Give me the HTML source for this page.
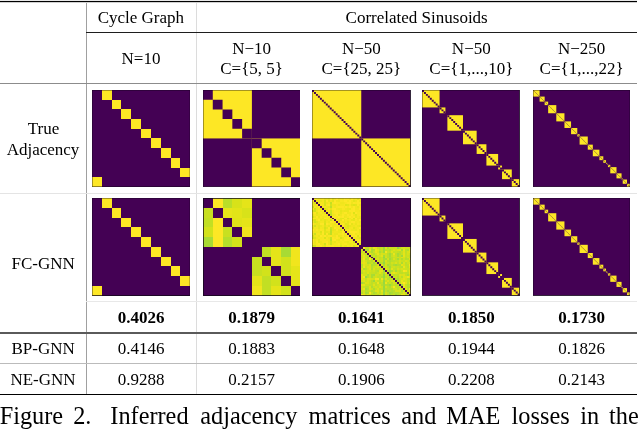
<!DOCTYPE html>
<html><head><meta charset="utf-8"><style>
html,body{margin:0;padding:0;background:#fff;}
body{width:640px;height:429px;position:relative;overflow:hidden;}
.t{position:absolute;text-align:center;white-space:nowrap;line-height:normal;font-family:"Liberation Serif",serif;color:#000;}
.c{position:absolute;white-space:nowrap;line-height:normal;font-family:"Liberation Serif",serif;color:#000;}
.l{position:absolute;}
#txt{position:absolute;left:0;top:0;width:640px;height:429px;will-change:transform;}
svg{display:block;}
</style></head><body>
<div id="txt"><div class="l" style="left:86px;top:2px;width:1px;height:392px;background:#a0a0a0"></div><div class="l" style="left:196px;top:2px;width:1px;height:392px;background:#dcdcdc"></div><div class="l" style="left:0px;top:0px;width:637px;height:1px;background:#e8e8e8"></div><div class="l" style="left:0px;top:1px;width:637px;height:1px;background:#000"></div><div class="l" style="left:0px;top:2px;width:637px;height:1px;background:#d0d0d0"></div><div class="l" style="left:86px;top:32px;width:551px;height:1px;background:#1e1e1e"></div><div class="l" style="left:0px;top:83px;width:637px;height:1px;background:#8c8c8c"></div><div class="l" style="left:0px;top:193px;width:637px;height:1px;background:#e4e4e4"></div><div class="l" style="left:86px;top:301px;width:551px;height:1px;background:#e8e8e8"></div><div class="l" style="left:0px;top:332px;width:637px;height:2px;background:#5a5a5a"></div><div class="l" style="left:0px;top:363px;width:637px;height:1px;background:#bbbbbb"></div><div class="l" style="left:0px;top:394px;width:637px;height:1px;background:#000"></div><div class="t" style="left:30.90px;top:8.25px;width:220px;font-size:17px;">Cycle Graph</div><div class="t" style="left:216.70px;top:8.25px;width:400px;font-size:17px;">Correlated Sinusoids</div><div class="t" style="left:31.00px;top:48.95px;width:220px;font-size:17px;">N=10</div><div class="t" style="left:141.60px;top:38.55px;width:220px;font-size:17px;">N&minus;10</div><div class="t" style="left:141.60px;top:59.05px;width:220px;font-size:17px;">C={5, 5}</div><div class="t" style="left:251.40px;top:38.55px;width:220px;font-size:17px;">N&minus;50</div><div class="t" style="left:251.40px;top:59.05px;width:220px;font-size:17px;">C={25, 25}</div><div class="t" style="left:361.30px;top:38.55px;width:220px;font-size:17px;">N&minus;50</div><div class="t" style="left:361.30px;top:59.05px;width:220px;font-size:17px;">C={1,...,10}</div><div class="t" style="left:471.60px;top:38.55px;width:220px;font-size:17px;">N&minus;250</div><div class="t" style="left:471.60px;top:59.05px;width:220px;font-size:17px;">C={1,...,22}</div><div class="t" style="left:0.50px;top:119.45px;width:86px;font-size:17px;">True</div><div class="t" style="left:0.00px;top:139.55px;width:86px;font-size:17px;">Adjacency</div><div class="t" style="left:0.10px;top:253.65px;width:86px;font-size:17px;">FC-GNN</div><div class="t" style="left:0.10px;top:338.85px;width:86px;font-size:17px;">BP-GNN</div><div class="t" style="left:0.00px;top:369.75px;width:86px;font-size:17px;">NE-GNN</div><div class="t" style="left:31.00px;top:308.15px;width:220px;font-size:17px;font-weight:bold;">0.4026</div><div class="t" style="left:31.00px;top:338.85px;width:220px;font-size:17px;">0.4146</div><div class="t" style="left:31.00px;top:369.85px;width:220px;font-size:17px;">0.9288</div><div class="t" style="left:141.60px;top:308.15px;width:220px;font-size:17px;font-weight:bold;">0.1879</div><div class="t" style="left:141.60px;top:338.85px;width:220px;font-size:17px;">0.1883</div><div class="t" style="left:141.60px;top:369.85px;width:220px;font-size:17px;">0.2157</div><div class="t" style="left:251.40px;top:308.15px;width:220px;font-size:17px;font-weight:bold;">0.1641</div><div class="t" style="left:251.40px;top:338.85px;width:220px;font-size:17px;">0.1648</div><div class="t" style="left:251.40px;top:369.85px;width:220px;font-size:17px;">0.1906</div><div class="t" style="left:361.30px;top:308.15px;width:220px;font-size:17px;font-weight:bold;">0.1850</div><div class="t" style="left:361.30px;top:338.85px;width:220px;font-size:17px;">0.1944</div><div class="t" style="left:361.30px;top:369.85px;width:220px;font-size:17px;">0.2208</div><div class="t" style="left:471.60px;top:308.15px;width:220px;font-size:17px;font-weight:bold;">0.1730</div><div class="t" style="left:471.60px;top:338.85px;width:220px;font-size:17px;">0.1826</div><div class="t" style="left:471.60px;top:369.85px;width:220px;font-size:17px;">0.2143</div><div class="c" style="left:-0.3px;top:402.25px;font-size:24.3px">Figure</div><div class="c" style="left:73.2px;top:402.25px;font-size:24.3px">2.</div><div class="c" style="left:110.3px;top:402.25px;font-size:24.3px">Inferred</div><div class="c" style="left:200.3px;top:402.25px;font-size:24.3px">adjacency</div><div class="c" style="left:308.5px;top:402.25px;font-size:24.3px">matrices</div><div class="c" style="left:401.3px;top:402.25px;font-size:24.3px">and</div><div class="c" style="left:446.3px;top:402.25px;font-size:24.3px">MAE</div><div class="c" style="left:511.6px;top:402.25px;font-size:24.3px">losses</div><div class="c" style="left:580.2px;top:402.25px;font-size:24.3px">in</div><div class="c" style="left:609px;top:402.25px;font-size:24.3px">the</div></div>
<svg style="position:absolute;left:91.8px;top:90px" width="98.2" height="96.9" viewBox="0 0 10 10" preserveAspectRatio="none" shape-rendering="crispEdges"><rect x="0" y="0" width="10" height="10" fill="#440154"/><rect x="1" y="0" width="1" height="1" fill="#fde725"/><rect x="2" y="1" width="1" height="1" fill="#fde725"/><rect x="3" y="2" width="1" height="1" fill="#fde725"/><rect x="4" y="3" width="1" height="1" fill="#fde725"/><rect x="5" y="4" width="1" height="1" fill="#fde725"/><rect x="6" y="5" width="1" height="1" fill="#fde725"/><rect x="7" y="6" width="1" height="1" fill="#fde725"/><rect x="8" y="7" width="1" height="1" fill="#fde725"/><rect x="9" y="8" width="1" height="1" fill="#fde725"/><rect x="0" y="9" width="1" height="1" fill="#fde725"/><rect x="0" y="0" width="10" height="10" fill="none" stroke="#100818" stroke-width="0.10204081632653061" stroke-opacity="0.75"/></svg><svg style="position:absolute;left:202.7px;top:90px" width="97.8" height="96.9" viewBox="0 0 10 10" preserveAspectRatio="none"><rect x="0" y="0" width="10" height="10" fill="#440154"/><rect x="0" y="0" width="5" height="5" fill="#fde725"/><rect x="5" y="5" width="5" height="5" fill="#fde725"/><path d="M0 0h1v1h-1z M1 1h1v1h-1z M2 2h1v1h-1z M3 3h1v1h-1z M4 4h1v1h-1z M5 5h1v1h-1z M6 6h1v1h-1z M7 7h1v1h-1z M8 8h1v1h-1z M9 9h1v1h-1z" fill="#440154"/><rect x="0" y="0" width="10" height="10" fill="none" stroke="#100818" stroke-width="0.10204081632653061" stroke-opacity="0.75"/></svg><svg style="position:absolute;left:312.2px;top:90px" width="98.5" height="96.9" viewBox="0 0 50 50" preserveAspectRatio="none"><rect x="0" y="0" width="50" height="50" fill="#440154"/><rect x="0" y="0" width="25" height="25" fill="#fde725"/><rect x="25" y="25" width="25" height="25" fill="#fde725"/><path d="M0 0h1v1h-1z M1 1h1v1h-1z M2 2h1v1h-1z M3 3h1v1h-1z M4 4h1v1h-1z M5 5h1v1h-1z M6 6h1v1h-1z M7 7h1v1h-1z M8 8h1v1h-1z M9 9h1v1h-1z M10 10h1v1h-1z M11 11h1v1h-1z M12 12h1v1h-1z M13 13h1v1h-1z M14 14h1v1h-1z M15 15h1v1h-1z M16 16h1v1h-1z M17 17h1v1h-1z M18 18h1v1h-1z M19 19h1v1h-1z M20 20h1v1h-1z M21 21h1v1h-1z M22 22h1v1h-1z M23 23h1v1h-1z M24 24h1v1h-1z M25 25h1v1h-1z M26 26h1v1h-1z M27 27h1v1h-1z M28 28h1v1h-1z M29 29h1v1h-1z M30 30h1v1h-1z M31 31h1v1h-1z M32 32h1v1h-1z M33 33h1v1h-1z M34 34h1v1h-1z M35 35h1v1h-1z M36 36h1v1h-1z M37 37h1v1h-1z M38 38h1v1h-1z M39 39h1v1h-1z M40 40h1v1h-1z M41 41h1v1h-1z M42 42h1v1h-1z M43 43h1v1h-1z M44 44h1v1h-1z M45 45h1v1h-1z M46 46h1v1h-1z M47 47h1v1h-1z M48 48h1v1h-1z M49 49h1v1h-1z" fill="#440154"/><rect x="0" y="0" width="50" height="50" fill="none" stroke="#100818" stroke-width="0.5102040816326531" stroke-opacity="0.75"/></svg><svg style="position:absolute;left:422.4px;top:90px" width="97.6" height="96.9" viewBox="0 0 50 50" preserveAspectRatio="none"><rect x="0" y="0" width="50" height="50" fill="#440154"/><rect x="0" y="0" width="9" height="9" fill="#fde725"/><rect x="9" y="9" width="3" height="3" fill="#fde725"/><rect x="13" y="13" width="8" height="8" fill="#fde725"/><rect x="21" y="21" width="7" height="7" fill="#fde725"/><rect x="28" y="28" width="5" height="5" fill="#fde725"/><rect x="33" y="33" width="6" height="6" fill="#fde725"/><rect x="39" y="39" width="2" height="2" fill="#fde725"/><rect x="41" y="41" width="5" height="5" fill="#fde725"/><rect x="46" y="46" width="4" height="4" fill="#fde725"/><path d="M0 0h1v1h-1z M1 1h1v1h-1z M2 2h1v1h-1z M3 3h1v1h-1z M4 4h1v1h-1z M5 5h1v1h-1z M6 6h1v1h-1z M7 7h1v1h-1z M8 8h1v1h-1z M9 9h1v1h-1z M10 10h1v1h-1z M11 11h1v1h-1z M12 12h1v1h-1z M13 13h1v1h-1z M14 14h1v1h-1z M15 15h1v1h-1z M16 16h1v1h-1z M17 17h1v1h-1z M18 18h1v1h-1z M19 19h1v1h-1z M20 20h1v1h-1z M21 21h1v1h-1z M22 22h1v1h-1z M23 23h1v1h-1z M24 24h1v1h-1z M25 25h1v1h-1z M26 26h1v1h-1z M27 27h1v1h-1z M28 28h1v1h-1z M29 29h1v1h-1z M30 30h1v1h-1z M31 31h1v1h-1z M32 32h1v1h-1z M33 33h1v1h-1z M34 34h1v1h-1z M35 35h1v1h-1z M36 36h1v1h-1z M37 37h1v1h-1z M38 38h1v1h-1z M39 39h1v1h-1z M40 40h1v1h-1z M41 41h1v1h-1z M42 42h1v1h-1z M43 43h1v1h-1z M44 44h1v1h-1z M45 45h1v1h-1z M46 46h1v1h-1z M47 47h1v1h-1z M48 48h1v1h-1z M49 49h1v1h-1z" fill="#440154"/><rect x="0" y="0" width="50" height="50" fill="none" stroke="#100818" stroke-width="0.5102040816326531" stroke-opacity="0.75"/></svg><svg style="position:absolute;left:532.7px;top:90px" width="97.1" height="96.9" viewBox="0 0 250 250" preserveAspectRatio="none"><rect x="0" y="0" width="250" height="250" fill="#440154"/><rect x="0" y="0" width="17" height="17" fill="#fde725"/><rect x="17" y="17" width="13" height="13" fill="#fde725"/><rect x="30" y="30" width="9" height="9" fill="#fde725"/><rect x="39" y="39" width="21" height="21" fill="#fde725"/><rect x="60" y="60" width="21" height="21" fill="#fde725"/><rect x="81" y="81" width="17" height="17" fill="#fde725"/><rect x="98" y="98" width="16" height="16" fill="#fde725"/><rect x="114" y="114" width="6" height="6" fill="#fde725"/><rect x="120" y="120" width="21" height="21" fill="#fde725"/><rect x="141" y="141" width="13" height="13" fill="#fde725"/><rect x="154" y="154" width="17" height="17" fill="#fde725"/><rect x="171" y="171" width="10" height="10" fill="#fde725"/><rect x="181" y="181" width="7" height="7" fill="#fde725"/><rect x="188" y="188" width="3" height="3" fill="#fde725"/><rect x="191" y="191" width="2" height="2" fill="#fde725"/><rect x="193" y="193" width="6" height="6" fill="#fde725"/><rect x="199" y="199" width="16" height="16" fill="#fde725"/><rect x="215" y="215" width="13" height="13" fill="#fde725"/><rect x="228" y="228" width="3" height="3" fill="#fde725"/><rect x="231" y="231" width="11" height="11" fill="#fde725"/><rect x="242" y="242" width="8" height="8" fill="#fde725"/><path d="M0 0h1v1h-1z M1 1h1v1h-1z M2 2h1v1h-1z M3 3h1v1h-1z M4 4h1v1h-1z M5 5h1v1h-1z M6 6h1v1h-1z M7 7h1v1h-1z M8 8h1v1h-1z M9 9h1v1h-1z M10 10h1v1h-1z M11 11h1v1h-1z M12 12h1v1h-1z M13 13h1v1h-1z M14 14h1v1h-1z M15 15h1v1h-1z M16 16h1v1h-1z M17 17h1v1h-1z M18 18h1v1h-1z M19 19h1v1h-1z M20 20h1v1h-1z M21 21h1v1h-1z M22 22h1v1h-1z M23 23h1v1h-1z M24 24h1v1h-1z M25 25h1v1h-1z M26 26h1v1h-1z M27 27h1v1h-1z M28 28h1v1h-1z M29 29h1v1h-1z M30 30h1v1h-1z M31 31h1v1h-1z M32 32h1v1h-1z M33 33h1v1h-1z M34 34h1v1h-1z M35 35h1v1h-1z M36 36h1v1h-1z M37 37h1v1h-1z M38 38h1v1h-1z M39 39h1v1h-1z M40 40h1v1h-1z M41 41h1v1h-1z M42 42h1v1h-1z M43 43h1v1h-1z M44 44h1v1h-1z M45 45h1v1h-1z M46 46h1v1h-1z M47 47h1v1h-1z M48 48h1v1h-1z M49 49h1v1h-1z M50 50h1v1h-1z M51 51h1v1h-1z M52 52h1v1h-1z M53 53h1v1h-1z M54 54h1v1h-1z M55 55h1v1h-1z M56 56h1v1h-1z M57 57h1v1h-1z M58 58h1v1h-1z M59 59h1v1h-1z M60 60h1v1h-1z M61 61h1v1h-1z M62 62h1v1h-1z M63 63h1v1h-1z M64 64h1v1h-1z M65 65h1v1h-1z M66 66h1v1h-1z M67 67h1v1h-1z M68 68h1v1h-1z M69 69h1v1h-1z M70 70h1v1h-1z M71 71h1v1h-1z M72 72h1v1h-1z M73 73h1v1h-1z M74 74h1v1h-1z M75 75h1v1h-1z M76 76h1v1h-1z M77 77h1v1h-1z M78 78h1v1h-1z M79 79h1v1h-1z M80 80h1v1h-1z M81 81h1v1h-1z M82 82h1v1h-1z M83 83h1v1h-1z M84 84h1v1h-1z M85 85h1v1h-1z M86 86h1v1h-1z M87 87h1v1h-1z M88 88h1v1h-1z M89 89h1v1h-1z M90 90h1v1h-1z M91 91h1v1h-1z M92 92h1v1h-1z M93 93h1v1h-1z M94 94h1v1h-1z M95 95h1v1h-1z M96 96h1v1h-1z M97 97h1v1h-1z M98 98h1v1h-1z M99 99h1v1h-1z M100 100h1v1h-1z M101 101h1v1h-1z M102 102h1v1h-1z M103 103h1v1h-1z M104 104h1v1h-1z M105 105h1v1h-1z M106 106h1v1h-1z M107 107h1v1h-1z M108 108h1v1h-1z M109 109h1v1h-1z M110 110h1v1h-1z M111 111h1v1h-1z M112 112h1v1h-1z M113 113h1v1h-1z M114 114h1v1h-1z M115 115h1v1h-1z M116 116h1v1h-1z M117 117h1v1h-1z M118 118h1v1h-1z M119 119h1v1h-1z M120 120h1v1h-1z M121 121h1v1h-1z M122 122h1v1h-1z M123 123h1v1h-1z M124 124h1v1h-1z M125 125h1v1h-1z M126 126h1v1h-1z M127 127h1v1h-1z M128 128h1v1h-1z M129 129h1v1h-1z M130 130h1v1h-1z M131 131h1v1h-1z M132 132h1v1h-1z M133 133h1v1h-1z M134 134h1v1h-1z M135 135h1v1h-1z M136 136h1v1h-1z M137 137h1v1h-1z M138 138h1v1h-1z M139 139h1v1h-1z M140 140h1v1h-1z M141 141h1v1h-1z M142 142h1v1h-1z M143 143h1v1h-1z M144 144h1v1h-1z M145 145h1v1h-1z M146 146h1v1h-1z M147 147h1v1h-1z M148 148h1v1h-1z M149 149h1v1h-1z M150 150h1v1h-1z M151 151h1v1h-1z M152 152h1v1h-1z M153 153h1v1h-1z M154 154h1v1h-1z M155 155h1v1h-1z M156 156h1v1h-1z M157 157h1v1h-1z M158 158h1v1h-1z M159 159h1v1h-1z M160 160h1v1h-1z M161 161h1v1h-1z M162 162h1v1h-1z M163 163h1v1h-1z M164 164h1v1h-1z M165 165h1v1h-1z M166 166h1v1h-1z M167 167h1v1h-1z M168 168h1v1h-1z M169 169h1v1h-1z M170 170h1v1h-1z M171 171h1v1h-1z M172 172h1v1h-1z M173 173h1v1h-1z M174 174h1v1h-1z M175 175h1v1h-1z M176 176h1v1h-1z M177 177h1v1h-1z M178 178h1v1h-1z M179 179h1v1h-1z M180 180h1v1h-1z M181 181h1v1h-1z M182 182h1v1h-1z M183 183h1v1h-1z M184 184h1v1h-1z M185 185h1v1h-1z M186 186h1v1h-1z M187 187h1v1h-1z M188 188h1v1h-1z M189 189h1v1h-1z M190 190h1v1h-1z M191 191h1v1h-1z M192 192h1v1h-1z M193 193h1v1h-1z M194 194h1v1h-1z M195 195h1v1h-1z M196 196h1v1h-1z M197 197h1v1h-1z M198 198h1v1h-1z M199 199h1v1h-1z M200 200h1v1h-1z M201 201h1v1h-1z M202 202h1v1h-1z M203 203h1v1h-1z M204 204h1v1h-1z M205 205h1v1h-1z M206 206h1v1h-1z M207 207h1v1h-1z M208 208h1v1h-1z M209 209h1v1h-1z M210 210h1v1h-1z M211 211h1v1h-1z M212 212h1v1h-1z M213 213h1v1h-1z M214 214h1v1h-1z M215 215h1v1h-1z M216 216h1v1h-1z M217 217h1v1h-1z M218 218h1v1h-1z M219 219h1v1h-1z M220 220h1v1h-1z M221 221h1v1h-1z M222 222h1v1h-1z M223 223h1v1h-1z M224 224h1v1h-1z M225 225h1v1h-1z M226 226h1v1h-1z M227 227h1v1h-1z M228 228h1v1h-1z M229 229h1v1h-1z M230 230h1v1h-1z M231 231h1v1h-1z M232 232h1v1h-1z M233 233h1v1h-1z M234 234h1v1h-1z M235 235h1v1h-1z M236 236h1v1h-1z M237 237h1v1h-1z M238 238h1v1h-1z M239 239h1v1h-1z M240 240h1v1h-1z M241 241h1v1h-1z M242 242h1v1h-1z M243 243h1v1h-1z M244 244h1v1h-1z M245 245h1v1h-1z M246 246h1v1h-1z M247 247h1v1h-1z M248 248h1v1h-1z M249 249h1v1h-1z" fill="#440154"/><rect x="0" y="0" width="250" height="250" fill="none" stroke="#100818" stroke-width="2.5510204081632653" stroke-opacity="0.75"/></svg><svg style="position:absolute;left:91.8px;top:198.3px" width="98.2" height="97.5" viewBox="0 0 10 10" preserveAspectRatio="none" shape-rendering="crispEdges"><rect x="0" y="0" width="10" height="10" fill="#440154"/><rect x="1" y="0" width="1" height="1" fill="#fde725"/><rect x="2" y="1" width="1" height="1" fill="#fde725"/><rect x="3" y="2" width="1" height="1" fill="#fde725"/><rect x="4" y="3" width="1" height="1" fill="#fde725"/><rect x="5" y="4" width="1" height="1" fill="#fde725"/><rect x="6" y="5" width="1" height="1" fill="#fde725"/><rect x="7" y="6" width="1" height="1" fill="#fde725"/><rect x="8" y="7" width="1" height="1" fill="#fde725"/><rect x="9" y="8" width="1" height="1" fill="#fde725"/><rect x="0" y="9" width="1" height="1" fill="#fde725"/><rect x="0" y="0" width="10" height="10" fill="none" stroke="#100818" stroke-width="0.10204081632653061" stroke-opacity="0.75"/></svg><svg style="position:absolute;left:202.7px;top:198.3px" width="97.8" height="97.5" viewBox="0 0 10 10" preserveAspectRatio="none" shape-rendering="crispEdges"><rect x="0" y="0" width="10" height="10" fill="#440154"/><rect x="1" y="0" width="1" height="1" fill="#fde725"/><rect x="2" y="0" width="1" height="1" fill="#bade28"/><rect x="3" y="0" width="1" height="1" fill="#d8e219"/><rect x="4" y="0" width="1" height="1" fill="#e5e419"/><rect x="0" y="1" width="1" height="1" fill="#c8e020"/><rect x="2" y="1" width="1" height="1" fill="#e7e419"/><rect x="3" y="1" width="1" height="1" fill="#e2e418"/><rect x="4" y="1" width="1" height="1" fill="#d8e219"/><rect x="0" y="2" width="1" height="1" fill="#c2df23"/><rect x="1" y="2" width="1" height="1" fill="#fde725"/><rect x="3" y="2" width="1" height="1" fill="#e0e318"/><rect x="4" y="2" width="1" height="1" fill="#e5e419"/><rect x="0" y="3" width="1" height="1" fill="#d2e21b"/><rect x="1" y="3" width="1" height="1" fill="#fde725"/><rect x="2" y="3" width="1" height="1" fill="#c8e020"/><rect x="4" y="3" width="1" height="1" fill="#f1e51d"/><rect x="0" y="4" width="1" height="1" fill="#a8db34"/><rect x="1" y="4" width="1" height="1" fill="#fde725"/><rect x="2" y="4" width="1" height="1" fill="#b5de2b"/><rect x="3" y="4" width="1" height="1" fill="#d2e21b"/><rect x="6" y="5" width="1" height="1" fill="#c2df23"/><rect x="7" y="5" width="1" height="1" fill="#e5e419"/><rect x="8" y="5" width="1" height="1" fill="#a8db34"/><rect x="9" y="5" width="1" height="1" fill="#f1e51d"/><rect x="5" y="6" width="1" height="1" fill="#c8e020"/><rect x="7" y="6" width="1" height="1" fill="#e5e419"/><rect x="8" y="6" width="1" height="1" fill="#d2e21b"/><rect x="9" y="6" width="1" height="1" fill="#f1e51d"/><rect x="5" y="7" width="1" height="1" fill="#c8e020"/><rect x="6" y="7" width="1" height="1" fill="#d2e21b"/><rect x="8" y="7" width="1" height="1" fill="#d2e21b"/><rect x="9" y="7" width="1" height="1" fill="#e5e419"/><rect x="5" y="8" width="1" height="1" fill="#e5e419"/><rect x="6" y="8" width="1" height="1" fill="#c2df23"/><rect x="7" y="8" width="1" height="1" fill="#d2e21b"/><rect x="9" y="8" width="1" height="1" fill="#e5e419"/><rect x="5" y="9" width="1" height="1" fill="#f1e51d"/><rect x="6" y="9" width="1" height="1" fill="#c2df23"/><rect x="7" y="9" width="1" height="1" fill="#e5e419"/><rect x="8" y="9" width="1" height="1" fill="#d2e21b"/><rect x="0" y="0" width="10" height="10" fill="none" stroke="#100818" stroke-width="0.10204081632653061" stroke-opacity="0.75"/></svg><svg style="position:absolute;left:312.2px;top:198.3px" width="98.5" height="97.5" viewBox="0 0 50 50" preserveAspectRatio="none" shape-rendering="crispEdges"><rect x="0" y="0" width="50" height="50" fill="#440154"/><rect x="1" y="0" width="1" height="1" fill="#f4e61e"/><rect x="2" y="0" width="1" height="1" fill="#f8e621"/><rect x="3" y="0" width="1" height="1" fill="#f4e61e"/><rect x="4" y="0" width="1" height="1" fill="#f6e620"/><rect x="5" y="0" width="1" height="1" fill="#f8e621"/><rect x="6" y="0" width="1" height="1" fill="#eae51a"/><rect x="7" y="0" width="1" height="1" fill="#efe51c"/><rect x="8" y="0" width="1" height="1" fill="#e5e419"/><rect x="9" y="0" width="1" height="1" fill="#fbe723"/><rect x="10" y="0" width="1" height="1" fill="#e5e419"/><rect x="11" y="0" width="1" height="1" fill="#f4e61e"/><rect x="12" y="0" width="1" height="1" fill="#fde725"/><rect x="13" y="0" width="1" height="1" fill="#efe51c"/><rect x="14" y="0" width="1" height="1" fill="#f4e61e"/><rect x="15" y="0" width="1" height="1" fill="#efe51c"/><rect x="16" y="0" width="1" height="1" fill="#fde725"/><rect x="17" y="0" width="2" height="1" fill="#f8e621"/><rect x="19" y="0" width="1" height="1" fill="#efe51c"/><rect x="20" y="0" width="1" height="1" fill="#fde725"/><rect x="21" y="0" width="1" height="1" fill="#f1e51d"/><rect x="22" y="0" width="1" height="1" fill="#f6e620"/><rect x="23" y="0" width="1" height="1" fill="#e5e419"/><rect x="24" y="0" width="1" height="1" fill="#f4e61e"/><rect x="0" y="1" width="1" height="1" fill="#fbe723"/><rect x="2" y="1" width="1" height="1" fill="#efe51c"/><rect x="3" y="1" width="1" height="1" fill="#ece51b"/><rect x="4" y="1" width="1" height="1" fill="#eae51a"/><rect x="5" y="1" width="1" height="1" fill="#f4e61e"/><rect x="6" y="1" width="1" height="1" fill="#dde318"/><rect x="7" y="1" width="1" height="1" fill="#fde725"/><rect x="8" y="1" width="1" height="1" fill="#e5e419"/><rect x="9" y="1" width="1" height="1" fill="#f1e51d"/><rect x="10" y="1" width="1" height="1" fill="#e5e419"/><rect x="11" y="1" width="1" height="1" fill="#fde725"/><rect x="12" y="1" width="1" height="1" fill="#efe51c"/><rect x="13" y="1" width="1" height="1" fill="#ece51b"/><rect x="14" y="1" width="1" height="1" fill="#f8e621"/><rect x="15" y="1" width="1" height="1" fill="#f6e620"/><rect x="16" y="1" width="2" height="1" fill="#fde725"/><rect x="18" y="1" width="1" height="1" fill="#f4e61e"/><rect x="19" y="1" width="1" height="1" fill="#fde725"/><rect x="20" y="1" width="1" height="1" fill="#f4e61e"/><rect x="21" y="1" width="1" height="1" fill="#e5e419"/><rect x="22" y="1" width="1" height="1" fill="#efe51c"/><rect x="23" y="1" width="1" height="1" fill="#fde725"/><rect x="24" y="1" width="1" height="1" fill="#efe51c"/><rect x="0" y="2" width="1" height="1" fill="#ece51b"/><rect x="1" y="2" width="1" height="1" fill="#dae319"/><rect x="3" y="2" width="1" height="1" fill="#f8e621"/><rect x="4" y="2" width="1" height="1" fill="#f6e620"/><rect x="5" y="2" width="1" height="1" fill="#f4e61e"/><rect x="6" y="2" width="1" height="1" fill="#dde318"/><rect x="7" y="2" width="1" height="1" fill="#efe51c"/><rect x="8" y="2" width="1" height="1" fill="#f4e61e"/><rect x="9" y="2" width="1" height="1" fill="#c5e021"/><rect x="10" y="2" width="1" height="1" fill="#f8e621"/><rect x="11" y="2" width="1" height="1" fill="#fde725"/><rect x="12" y="2" width="1" height="1" fill="#f8e621"/><rect x="13" y="2" width="1" height="1" fill="#f6e620"/><rect x="14" y="2" width="2" height="1" fill="#f1e51d"/><rect x="16" y="2" width="1" height="1" fill="#f4e61e"/><rect x="17" y="2" width="1" height="1" fill="#f8e621"/><rect x="18" y="2" width="2" height="1" fill="#fde725"/><rect x="20" y="2" width="1" height="1" fill="#f1e51d"/><rect x="21" y="2" width="1" height="1" fill="#fbe723"/><rect x="22" y="2" width="1" height="1" fill="#f8e621"/><rect x="23" y="2" width="2" height="1" fill="#fde725"/><rect x="0" y="3" width="1" height="1" fill="#efe51c"/><rect x="1" y="3" width="1" height="1" fill="#ece51b"/><rect x="2" y="3" width="1" height="1" fill="#f8e621"/><rect x="4" y="3" width="1" height="1" fill="#fbe723"/><rect x="5" y="3" width="1" height="1" fill="#f6e620"/><rect x="6" y="3" width="1" height="1" fill="#d8e219"/><rect x="7" y="3" width="1" height="1" fill="#f8e621"/><rect x="8" y="3" width="1" height="1" fill="#fbe723"/><rect x="9" y="3" width="1" height="1" fill="#d2e21b"/><rect x="10" y="3" width="1" height="1" fill="#efe51c"/><rect x="11" y="3" width="1" height="1" fill="#ece51b"/><rect x="12" y="3" width="1" height="1" fill="#f6e620"/><rect x="13" y="3" width="1" height="1" fill="#ece51b"/><rect x="14" y="3" width="2" height="1" fill="#f4e61e"/><rect x="16" y="3" width="1" height="1" fill="#f8e621"/><rect x="17" y="3" width="1" height="1" fill="#e2e418"/><rect x="18" y="3" width="1" height="1" fill="#e7e419"/><rect x="19" y="3" width="1" height="1" fill="#f6e620"/><rect x="20" y="3" width="1" height="1" fill="#e7e419"/><rect x="21" y="3" width="1" height="1" fill="#dfe318"/><rect x="22" y="3" width="1" height="1" fill="#e5e419"/><rect x="23" y="3" width="1" height="1" fill="#fbe723"/><rect x="24" y="3" width="1" height="1" fill="#f1e51d"/><rect x="0" y="4" width="1" height="1" fill="#d5e21a"/><rect x="1" y="4" width="1" height="1" fill="#f6e620"/><rect x="2" y="4" width="1" height="1" fill="#efe51c"/><rect x="3" y="4" width="1" height="1" fill="#fde725"/><rect x="5" y="4" width="1" height="1" fill="#f4e61e"/><rect x="6" y="4" width="1" height="1" fill="#f6e620"/><rect x="7" y="4" width="1" height="1" fill="#efe51c"/><rect x="8" y="4" width="1" height="1" fill="#ece51b"/><rect x="9" y="4" width="1" height="1" fill="#c0df25"/><rect x="10" y="4" width="1" height="1" fill="#f4e61e"/><rect x="11" y="4" width="1" height="1" fill="#efe51c"/><rect x="12" y="4" width="1" height="1" fill="#f8e621"/><rect x="13" y="4" width="3" height="1" fill="#fbe723"/><rect x="16" y="4" width="1" height="1" fill="#f4e61e"/><rect x="17" y="4" width="1" height="1" fill="#fbe723"/><rect x="18" y="4" width="1" height="1" fill="#f4e61e"/><rect x="19" y="4" width="1" height="1" fill="#fde725"/><rect x="20" y="4" width="1" height="1" fill="#f4e61e"/><rect x="21" y="4" width="1" height="1" fill="#fde725"/><rect x="22" y="4" width="1" height="1" fill="#f1e51d"/><rect x="23" y="4" width="1" height="1" fill="#eae51a"/><rect x="24" y="4" width="1" height="1" fill="#f8e621"/><rect x="0" y="5" width="1" height="1" fill="#f6e620"/><rect x="1" y="5" width="1" height="1" fill="#d0e11c"/><rect x="2" y="5" width="1" height="1" fill="#efe51c"/><rect x="3" y="5" width="1" height="1" fill="#f4e61e"/><rect x="4" y="5" width="1" height="1" fill="#efe51c"/><rect x="6" y="5" width="1" height="1" fill="#d8e219"/><rect x="7" y="5" width="1" height="1" fill="#eae51a"/><rect x="8" y="5" width="1" height="1" fill="#f8e621"/><rect x="9" y="5" width="1" height="1" fill="#e7e419"/><rect x="10" y="5" width="1" height="1" fill="#fbe723"/><rect x="11" y="5" width="1" height="1" fill="#fde725"/><rect x="12" y="5" width="1" height="1" fill="#f1e51d"/><rect x="13" y="5" width="1" height="1" fill="#ece51b"/><rect x="14" y="5" width="1" height="1" fill="#efe51c"/><rect x="15" y="5" width="2" height="1" fill="#f8e621"/><rect x="17" y="5" width="1" height="1" fill="#efe51c"/><rect x="18" y="5" width="2" height="1" fill="#eae51a"/><rect x="20" y="5" width="1" height="1" fill="#fbe723"/><rect x="21" y="5" width="1" height="1" fill="#fde725"/><rect x="22" y="5" width="2" height="1" fill="#f1e51d"/><rect x="24" y="5" width="1" height="1" fill="#fbe723"/><rect x="0" y="6" width="1" height="1" fill="#dde318"/><rect x="1" y="6" width="1" height="1" fill="#d0e11c"/><rect x="2" y="6" width="1" height="1" fill="#f1e51d"/><rect x="3" y="6" width="1" height="1" fill="#fbe723"/><rect x="4" y="6" width="1" height="1" fill="#f1e51d"/><rect x="5" y="6" width="1" height="1" fill="#f6e620"/><rect x="7" y="6" width="1" height="1" fill="#f4e61e"/><rect x="8" y="6" width="1" height="1" fill="#efe51c"/><rect x="9" y="6" width="1" height="1" fill="#cde11d"/><rect x="10" y="6" width="1" height="1" fill="#f4e61e"/><rect x="11" y="6" width="1" height="1" fill="#fbe723"/><rect x="12" y="6" width="1" height="1" fill="#f8e621"/><rect x="13" y="6" width="1" height="1" fill="#f6e620"/><rect x="14" y="6" width="1" height="1" fill="#e7e419"/><rect x="15" y="6" width="1" height="1" fill="#efe51c"/><rect x="16" y="6" width="1" height="1" fill="#eae51a"/><rect x="17" y="6" width="1" height="1" fill="#ece51b"/><rect x="18" y="6" width="1" height="1" fill="#eae51a"/><rect x="19" y="6" width="2" height="1" fill="#fbe723"/><rect x="21" y="6" width="1" height="1" fill="#fde725"/><rect x="22" y="6" width="2" height="1" fill="#f4e61e"/><rect x="24" y="6" width="1" height="1" fill="#f1e51d"/><rect x="0" y="7" width="1" height="1" fill="#f8e621"/><rect x="1" y="7" width="1" height="1" fill="#fbe723"/><rect x="2" y="7" width="1" height="1" fill="#e2e418"/><rect x="3" y="7" width="1" height="1" fill="#f4e61e"/><rect x="4" y="7" width="1" height="1" fill="#f8e621"/><rect x="5" y="7" width="1" height="1" fill="#efe51c"/><rect x="6" y="7" width="1" height="1" fill="#e7e419"/><rect x="8" y="7" width="1" height="1" fill="#f1e51d"/><rect x="9" y="7" width="1" height="1" fill="#c8e020"/><rect x="10" y="7" width="1" height="1" fill="#f6e620"/><rect x="11" y="7" width="1" height="1" fill="#fbe723"/><rect x="12" y="7" width="1" height="1" fill="#fde725"/><rect x="13" y="7" width="1" height="1" fill="#f6e620"/><rect x="14" y="7" width="1" height="1" fill="#eae51a"/><rect x="15" y="7" width="1" height="1" fill="#f6e620"/><rect x="16" y="7" width="2" height="1" fill="#fde725"/><rect x="18" y="7" width="1" height="1" fill="#efe51c"/><rect x="19" y="7" width="1" height="1" fill="#f1e51d"/><rect x="20" y="7" width="1" height="1" fill="#fbe723"/><rect x="21" y="7" width="1" height="1" fill="#dde318"/><rect x="22" y="7" width="1" height="1" fill="#fde725"/><rect x="23" y="7" width="2" height="1" fill="#f6e620"/><rect x="0" y="8" width="1" height="1" fill="#ece51b"/><rect x="1" y="8" width="1" height="1" fill="#f6e620"/><rect x="2" y="8" width="1" height="1" fill="#ece51b"/><rect x="3" y="8" width="2" height="1" fill="#f1e51d"/><rect x="5" y="8" width="2" height="1" fill="#f8e621"/><rect x="7" y="8" width="1" height="1" fill="#ece51b"/><rect x="9" y="8" width="1" height="1" fill="#c5e021"/><rect x="10" y="8" width="1" height="1" fill="#efe51c"/><rect x="11" y="8" width="1" height="1" fill="#f4e61e"/><rect x="12" y="8" width="1" height="1" fill="#fde725"/><rect x="13" y="8" width="1" height="1" fill="#eae51a"/><rect x="14" y="8" width="1" height="1" fill="#f1e51d"/><rect x="15" y="8" width="1" height="1" fill="#fbe723"/><rect x="16" y="8" width="1" height="1" fill="#f4e61e"/><rect x="17" y="8" width="1" height="1" fill="#f1e51d"/><rect x="18" y="8" width="1" height="1" fill="#fbe723"/><rect x="19" y="8" width="1" height="1" fill="#f4e61e"/><rect x="20" y="8" width="1" height="1" fill="#fde725"/><rect x="21" y="8" width="1" height="1" fill="#f4e61e"/><rect x="22" y="8" width="1" height="1" fill="#e5e419"/><rect x="23" y="8" width="1" height="1" fill="#f6e620"/><rect x="24" y="8" width="1" height="1" fill="#f8e621"/><rect x="0" y="9" width="1" height="1" fill="#dae319"/><rect x="1" y="9" width="1" height="1" fill="#ece51b"/><rect x="2" y="9" width="1" height="1" fill="#fde725"/><rect x="3" y="9" width="1" height="1" fill="#eae51a"/><rect x="4" y="9" width="1" height="1" fill="#f6e620"/><rect x="5" y="9" width="1" height="1" fill="#f1e51d"/><rect x="6" y="9" width="1" height="1" fill="#f4e61e"/><rect x="7" y="9" width="1" height="1" fill="#f6e620"/><rect x="8" y="9" width="1" height="1" fill="#f4e61e"/><rect x="10" y="9" width="1" height="1" fill="#fde725"/><rect x="11" y="9" width="1" height="1" fill="#fbe723"/><rect x="12" y="9" width="1" height="1" fill="#f8e621"/><rect x="13" y="9" width="1" height="1" fill="#fde725"/><rect x="14" y="9" width="1" height="1" fill="#f8e621"/><rect x="15" y="9" width="1" height="1" fill="#fde725"/><rect x="16" y="9" width="1" height="1" fill="#ece51b"/><rect x="17" y="9" width="1" height="1" fill="#f1e51d"/><rect x="18" y="9" width="1" height="1" fill="#f6e620"/><rect x="19" y="9" width="1" height="1" fill="#fde725"/><rect x="20" y="9" width="1" height="1" fill="#f6e620"/><rect x="21" y="9" width="1" height="1" fill="#fbe723"/><rect x="22" y="9" width="1" height="1" fill="#eae51a"/><rect x="23" y="9" width="1" height="1" fill="#f4e61e"/><rect x="24" y="9" width="1" height="1" fill="#efe51c"/><rect x="0" y="10" width="3" height="1" fill="#f8e621"/><rect x="3" y="10" width="1" height="1" fill="#f4e61e"/><rect x="4" y="10" width="1" height="1" fill="#f1e51d"/><rect x="5" y="10" width="1" height="1" fill="#eae51a"/><rect x="6" y="10" width="1" height="1" fill="#fde725"/><rect x="7" y="10" width="1" height="1" fill="#f8e621"/><rect x="8" y="10" width="1" height="1" fill="#f1e51d"/><rect x="9" y="10" width="1" height="1" fill="#fde725"/><rect x="11" y="10" width="1" height="1" fill="#fde725"/><rect x="12" y="10" width="1" height="1" fill="#f1e51d"/><rect x="13" y="10" width="1" height="1" fill="#f4e61e"/><rect x="14" y="10" width="1" height="1" fill="#e5e419"/><rect x="15" y="10" width="1" height="1" fill="#e2e418"/><rect x="16" y="10" width="1" height="1" fill="#f8e621"/><rect x="17" y="10" width="1" height="1" fill="#fde725"/><rect x="18" y="10" width="1" height="1" fill="#dfe318"/><rect x="19" y="10" width="1" height="1" fill="#f1e51d"/><rect x="20" y="10" width="1" height="1" fill="#fde725"/><rect x="21" y="10" width="1" height="1" fill="#dae319"/><rect x="22" y="10" width="1" height="1" fill="#fde725"/><rect x="23" y="10" width="2" height="1" fill="#ece51b"/><rect x="0" y="11" width="1" height="1" fill="#e2e418"/><rect x="1" y="11" width="1" height="1" fill="#d8e219"/><rect x="2" y="11" width="1" height="1" fill="#f4e61e"/><rect x="3" y="11" width="1" height="1" fill="#fde725"/><rect x="4" y="11" width="1" height="1" fill="#eae51a"/><rect x="5" y="11" width="1" height="1" fill="#f1e51d"/><rect x="6" y="11" width="1" height="1" fill="#e5e419"/><rect x="7" y="11" width="1" height="1" fill="#efe51c"/><rect x="8" y="11" width="1" height="1" fill="#f4e61e"/><rect x="9" y="11" width="1" height="1" fill="#d2e21b"/><rect x="10" y="11" width="1" height="1" fill="#f8e621"/><rect x="12" y="11" width="1" height="1" fill="#f8e621"/><rect x="13" y="11" width="1" height="1" fill="#e5e419"/><rect x="14" y="11" width="1" height="1" fill="#e7e419"/><rect x="15" y="11" width="1" height="1" fill="#fde725"/><rect x="16" y="11" width="1" height="1" fill="#eae51a"/><rect x="17" y="11" width="1" height="1" fill="#f4e61e"/><rect x="18" y="11" width="1" height="1" fill="#efe51c"/><rect x="19" y="11" width="1" height="1" fill="#f6e620"/><rect x="20" y="11" width="1" height="1" fill="#eae51a"/><rect x="21" y="11" width="1" height="1" fill="#e7e419"/><rect x="22" y="11" width="1" height="1" fill="#f8e621"/><rect x="23" y="11" width="1" height="1" fill="#f1e51d"/><rect x="24" y="11" width="1" height="1" fill="#fde725"/><rect x="0" y="12" width="1" height="1" fill="#efe51c"/><rect x="1" y="12" width="1" height="1" fill="#d2e21b"/><rect x="2" y="12" width="1" height="1" fill="#e2e418"/><rect x="3" y="12" width="1" height="1" fill="#f1e51d"/><rect x="4" y="12" width="2" height="1" fill="#f4e61e"/><rect x="6" y="12" width="1" height="1" fill="#dfe318"/><rect x="7" y="12" width="1" height="1" fill="#f4e61e"/><rect x="8" y="12" width="1" height="1" fill="#ece51b"/><rect x="9" y="12" width="1" height="1" fill="#fde725"/><rect x="10" y="12" width="1" height="1" fill="#fbe723"/><rect x="11" y="12" width="1" height="1" fill="#f4e61e"/><rect x="13" y="12" width="1" height="1" fill="#e7e419"/><rect x="14" y="12" width="1" height="1" fill="#f6e620"/><rect x="15" y="12" width="1" height="1" fill="#f1e51d"/><rect x="16" y="12" width="1" height="1" fill="#eae51a"/><rect x="17" y="12" width="1" height="1" fill="#f4e61e"/><rect x="18" y="12" width="1" height="1" fill="#e5e419"/><rect x="19" y="12" width="1" height="1" fill="#f4e61e"/><rect x="20" y="12" width="2" height="1" fill="#fde725"/><rect x="22" y="12" width="1" height="1" fill="#f1e51d"/><rect x="23" y="12" width="1" height="1" fill="#f4e61e"/><rect x="24" y="12" width="1" height="1" fill="#efe51c"/><rect x="0" y="13" width="1" height="1" fill="#fde725"/><rect x="1" y="13" width="1" height="1" fill="#efe51c"/><rect x="2" y="13" width="1" height="1" fill="#eae51a"/><rect x="3" y="13" width="1" height="1" fill="#ece51b"/><rect x="4" y="13" width="2" height="1" fill="#fde725"/><rect x="6" y="13" width="1" height="1" fill="#d8e219"/><rect x="7" y="13" width="1" height="1" fill="#fde725"/><rect x="8" y="13" width="1" height="1" fill="#f6e620"/><rect x="9" y="13" width="1" height="1" fill="#f4e61e"/><rect x="10" y="13" width="1" height="1" fill="#f1e51d"/><rect x="11" y="13" width="1" height="1" fill="#eae51a"/><rect x="12" y="13" width="1" height="1" fill="#f8e621"/><rect x="14" y="13" width="1" height="1" fill="#f6e620"/><rect x="15" y="13" width="1" height="1" fill="#fde725"/><rect x="16" y="13" width="1" height="1" fill="#f4e61e"/><rect x="17" y="13" width="1" height="1" fill="#e2e418"/><rect x="18" y="13" width="1" height="1" fill="#e7e419"/><rect x="19" y="13" width="1" height="1" fill="#fde725"/><rect x="20" y="13" width="1" height="1" fill="#e7e419"/><rect x="21" y="13" width="1" height="1" fill="#f6e620"/><rect x="22" y="13" width="1" height="1" fill="#ece51b"/><rect x="23" y="13" width="1" height="1" fill="#f8e621"/><rect x="24" y="13" width="1" height="1" fill="#f4e61e"/><rect x="0" y="14" width="1" height="1" fill="#eae51a"/><rect x="1" y="14" width="1" height="1" fill="#d0e11c"/><rect x="2" y="14" width="1" height="1" fill="#efe51c"/><rect x="3" y="14" width="1" height="1" fill="#e5e419"/><rect x="4" y="14" width="1" height="1" fill="#ece51b"/><rect x="5" y="14" width="1" height="1" fill="#f4e61e"/><rect x="6" y="14" width="1" height="1" fill="#e2e418"/><rect x="7" y="14" width="1" height="1" fill="#f1e51d"/><rect x="8" y="14" width="1" height="1" fill="#e7e419"/><rect x="9" y="14" width="1" height="1" fill="#fbe723"/><rect x="10" y="14" width="1" height="1" fill="#efe51c"/><rect x="11" y="14" width="3" height="1" fill="#f4e61e"/><rect x="15" y="14" width="1" height="1" fill="#fbe723"/><rect x="16" y="14" width="1" height="1" fill="#efe51c"/><rect x="17" y="14" width="1" height="1" fill="#eae51a"/><rect x="18" y="14" width="1" height="1" fill="#dde318"/><rect x="19" y="14" width="1" height="1" fill="#eae51a"/><rect x="20" y="14" width="1" height="1" fill="#f1e51d"/><rect x="21" y="14" width="1" height="1" fill="#efe51c"/><rect x="22" y="14" width="1" height="1" fill="#f4e61e"/><rect x="23" y="14" width="1" height="1" fill="#ece51b"/><rect x="24" y="14" width="1" height="1" fill="#e7e419"/><rect x="0" y="15" width="1" height="1" fill="#e7e419"/><rect x="1" y="15" width="2" height="1" fill="#f1e51d"/><rect x="3" y="15" width="1" height="1" fill="#e5e419"/><rect x="4" y="15" width="1" height="1" fill="#f4e61e"/><rect x="5" y="15" width="1" height="1" fill="#f1e51d"/><rect x="6" y="15" width="1" height="1" fill="#d5e21a"/><rect x="7" y="15" width="1" height="1" fill="#e5e419"/><rect x="8" y="15" width="1" height="1" fill="#fbe723"/><rect x="9" y="15" width="1" height="1" fill="#cde11d"/><rect x="10" y="15" width="1" height="1" fill="#e5e419"/><rect x="11" y="15" width="1" height="1" fill="#fde725"/><rect x="12" y="15" width="1" height="1" fill="#f6e620"/><rect x="13" y="15" width="1" height="1" fill="#f8e621"/><rect x="14" y="15" width="1" height="1" fill="#f1e51d"/><rect x="16" y="15" width="1" height="1" fill="#f6e620"/><rect x="17" y="15" width="1" height="1" fill="#e5e419"/><rect x="18" y="15" width="1" height="1" fill="#e2e418"/><rect x="19" y="15" width="1" height="1" fill="#f4e61e"/><rect x="20" y="15" width="1" height="1" fill="#f6e620"/><rect x="21" y="15" width="1" height="1" fill="#e2e418"/><rect x="22" y="15" width="1" height="1" fill="#efe51c"/><rect x="23" y="15" width="1" height="1" fill="#f4e61e"/><rect x="24" y="15" width="1" height="1" fill="#fde725"/><rect x="0" y="16" width="1" height="1" fill="#fde725"/><rect x="1" y="16" width="1" height="1" fill="#efe51c"/><rect x="2" y="16" width="1" height="1" fill="#f8e621"/><rect x="3" y="16" width="1" height="1" fill="#efe51c"/><rect x="4" y="16" width="1" height="1" fill="#f8e621"/><rect x="5" y="16" width="1" height="1" fill="#f6e620"/><rect x="6" y="16" width="1" height="1" fill="#dfe318"/><rect x="7" y="16" width="1" height="1" fill="#f4e61e"/><rect x="8" y="16" width="1" height="1" fill="#f6e620"/><rect x="9" y="16" width="1" height="1" fill="#c0df25"/><rect x="10" y="16" width="1" height="1" fill="#e7e419"/><rect x="11" y="16" width="1" height="1" fill="#ece51b"/><rect x="12" y="16" width="1" height="1" fill="#fbe723"/><rect x="13" y="16" width="1" height="1" fill="#eae51a"/><rect x="14" y="16" width="1" height="1" fill="#d8e219"/><rect x="15" y="16" width="1" height="1" fill="#f6e620"/><rect x="17" y="16" width="1" height="1" fill="#efe51c"/><rect x="18" y="16" width="1" height="1" fill="#f4e61e"/><rect x="19" y="16" width="1" height="1" fill="#f6e620"/><rect x="20" y="16" width="2" height="1" fill="#efe51c"/><rect x="22" y="16" width="1" height="1" fill="#ece51b"/><rect x="23" y="16" width="1" height="1" fill="#f6e620"/><rect x="24" y="16" width="1" height="1" fill="#e7e419"/><rect x="0" y="17" width="1" height="1" fill="#f6e620"/><rect x="1" y="17" width="2" height="1" fill="#efe51c"/><rect x="3" y="17" width="1" height="1" fill="#f1e51d"/><rect x="4" y="17" width="1" height="1" fill="#dfe318"/><rect x="5" y="17" width="1" height="1" fill="#fbe723"/><rect x="6" y="17" width="1" height="1" fill="#e2e418"/><rect x="7" y="17" width="1" height="1" fill="#e7e419"/><rect x="8" y="17" width="1" height="1" fill="#ece51b"/><rect x="9" y="17" width="1" height="1" fill="#bddf26"/><rect x="10" y="17" width="1" height="1" fill="#efe51c"/><rect x="11" y="17" width="2" height="1" fill="#f1e51d"/><rect x="13" y="17" width="1" height="1" fill="#ece51b"/><rect x="14" y="17" width="1" height="1" fill="#efe51c"/><rect x="15" y="17" width="1" height="1" fill="#fde725"/><rect x="16" y="17" width="1" height="1" fill="#efe51c"/><rect x="18" y="17" width="1" height="1" fill="#f1e51d"/><rect x="19" y="17" width="1" height="1" fill="#fbe723"/><rect x="20" y="17" width="2" height="1" fill="#fde725"/><rect x="22" y="17" width="1" height="1" fill="#fbe723"/><rect x="23" y="17" width="1" height="1" fill="#f6e620"/><rect x="24" y="17" width="1" height="1" fill="#eae51a"/><rect x="0" y="18" width="1" height="1" fill="#efe51c"/><rect x="1" y="18" width="1" height="1" fill="#cae11f"/><rect x="2" y="18" width="2" height="1" fill="#f6e620"/><rect x="4" y="18" width="1" height="1" fill="#eae51a"/><rect x="5" y="18" width="1" height="1" fill="#fde725"/><rect x="6" y="18" width="1" height="1" fill="#dae319"/><rect x="7" y="18" width="1" height="1" fill="#fbe723"/><rect x="8" y="18" width="1" height="1" fill="#dde318"/><rect x="9" y="18" width="1" height="1" fill="#c0df25"/><rect x="10" y="18" width="1" height="1" fill="#f4e61e"/><rect x="11" y="18" width="2" height="1" fill="#ece51b"/><rect x="13" y="18" width="2" height="1" fill="#f6e620"/><rect x="15" y="18" width="1" height="1" fill="#fbe723"/><rect x="16" y="18" width="1" height="1" fill="#eae51a"/><rect x="17" y="18" width="1" height="1" fill="#f4e61e"/><rect x="19" y="18" width="1" height="1" fill="#efe51c"/><rect x="20" y="18" width="1" height="1" fill="#f6e620"/><rect x="21" y="18" width="1" height="1" fill="#fde725"/><rect x="22" y="18" width="1" height="1" fill="#efe51c"/><rect x="23" y="18" width="1" height="1" fill="#f6e620"/><rect x="24" y="18" width="1" height="1" fill="#f1e51d"/><rect x="0" y="19" width="1" height="1" fill="#dae319"/><rect x="1" y="19" width="1" height="1" fill="#ece51b"/><rect x="2" y="19" width="1" height="1" fill="#f4e61e"/><rect x="3" y="19" width="1" height="1" fill="#eae51a"/><rect x="4" y="19" width="1" height="1" fill="#fde725"/><rect x="5" y="19" width="1" height="1" fill="#f6e620"/><rect x="6" y="19" width="1" height="1" fill="#fde725"/><rect x="7" y="19" width="1" height="1" fill="#efe51c"/><rect x="8" y="19" width="2" height="1" fill="#f8e621"/><rect x="10" y="19" width="2" height="1" fill="#f1e51d"/><rect x="12" y="19" width="1" height="1" fill="#fde725"/><rect x="13" y="19" width="1" height="1" fill="#eae51a"/><rect x="14" y="19" width="1" height="1" fill="#efe51c"/><rect x="15" y="19" width="1" height="1" fill="#f8e621"/><rect x="16" y="19" width="1" height="1" fill="#eae51a"/><rect x="17" y="19" width="1" height="1" fill="#efe51c"/><rect x="18" y="19" width="1" height="1" fill="#f8e621"/><rect x="20" y="19" width="1" height="1" fill="#fde725"/><rect x="21" y="19" width="1" height="1" fill="#f8e621"/><rect x="22" y="19" width="1" height="1" fill="#fbe723"/><rect x="23" y="19" width="1" height="1" fill="#dfe318"/><rect x="24" y="19" width="1" height="1" fill="#f8e621"/><rect x="0" y="20" width="1" height="1" fill="#d2e21b"/><rect x="1" y="20" width="1" height="1" fill="#dde318"/><rect x="2" y="20" width="1" height="1" fill="#efe51c"/><rect x="3" y="20" width="2" height="1" fill="#f4e61e"/><rect x="5" y="20" width="1" height="1" fill="#f6e620"/><rect x="6" y="20" width="1" height="1" fill="#dae319"/><rect x="7" y="20" width="1" height="1" fill="#f6e620"/><rect x="8" y="20" width="1" height="1" fill="#ece51b"/><rect x="9" y="20" width="1" height="1" fill="#c8e020"/><rect x="10" y="20" width="1" height="1" fill="#fbe723"/><rect x="11" y="20" width="1" height="1" fill="#f6e620"/><rect x="12" y="20" width="1" height="1" fill="#fde725"/><rect x="13" y="20" width="1" height="1" fill="#f8e621"/><rect x="14" y="20" width="1" height="1" fill="#d8e219"/><rect x="15" y="20" width="1" height="1" fill="#eae51a"/><rect x="16" y="20" width="1" height="1" fill="#f8e621"/><rect x="17" y="20" width="1" height="1" fill="#f6e620"/><rect x="18" y="20" width="1" height="1" fill="#fde725"/><rect x="19" y="20" width="1" height="1" fill="#f8e621"/><rect x="21" y="20" width="1" height="1" fill="#f4e61e"/><rect x="22" y="20" width="1" height="1" fill="#efe51c"/><rect x="23" y="20" width="1" height="1" fill="#ece51b"/><rect x="24" y="20" width="1" height="1" fill="#e7e419"/><rect x="0" y="21" width="1" height="1" fill="#fde725"/><rect x="1" y="21" width="1" height="1" fill="#efe51c"/><rect x="2" y="21" width="1" height="1" fill="#f6e620"/><rect x="3" y="21" width="1" height="1" fill="#e5e419"/><rect x="4" y="21" width="2" height="1" fill="#f6e620"/><rect x="6" y="21" width="1" height="1" fill="#f8e621"/><rect x="7" y="21" width="1" height="1" fill="#f4e61e"/><rect x="8" y="21" width="1" height="1" fill="#f1e51d"/><rect x="9" y="21" width="1" height="1" fill="#bddf26"/><rect x="10" y="21" width="1" height="1" fill="#fbe723"/><rect x="11" y="21" width="1" height="1" fill="#fde725"/><rect x="12" y="21" width="1" height="1" fill="#f1e51d"/><rect x="13" y="21" width="1" height="1" fill="#ece51b"/><rect x="14" y="21" width="1" height="1" fill="#f6e620"/><rect x="15" y="21" width="1" height="1" fill="#efe51c"/><rect x="16" y="21" width="1" height="1" fill="#f8e621"/><rect x="17" y="21" width="1" height="1" fill="#fbe723"/><rect x="18" y="21" width="1" height="1" fill="#f8e621"/><rect x="19" y="21" width="1" height="1" fill="#f4e61e"/><rect x="20" y="21" width="1" height="1" fill="#f1e51d"/><rect x="22" y="21" width="1" height="1" fill="#f4e61e"/><rect x="23" y="21" width="1" height="1" fill="#f8e621"/><rect x="24" y="21" width="1" height="1" fill="#f4e61e"/><rect x="0" y="22" width="1" height="1" fill="#fde725"/><rect x="1" y="22" width="1" height="1" fill="#eae51a"/><rect x="2" y="22" width="1" height="1" fill="#fbe723"/><rect x="3" y="22" width="1" height="1" fill="#e5e419"/><rect x="4" y="22" width="1" height="1" fill="#efe51c"/><rect x="5" y="22" width="2" height="1" fill="#f8e621"/><rect x="7" y="22" width="1" height="1" fill="#fbe723"/><rect x="8" y="22" width="1" height="1" fill="#efe51c"/><rect x="9" y="22" width="1" height="1" fill="#d2e21b"/><rect x="10" y="22" width="1" height="1" fill="#f1e51d"/><rect x="11" y="22" width="1" height="1" fill="#eae51a"/><rect x="12" y="22" width="1" height="1" fill="#f8e621"/><rect x="13" y="22" width="1" height="1" fill="#f4e61e"/><rect x="14" y="22" width="1" height="1" fill="#f1e51d"/><rect x="15" y="22" width="1" height="1" fill="#f6e620"/><rect x="16" y="22" width="1" height="1" fill="#f1e51d"/><rect x="17" y="22" width="1" height="1" fill="#efe51c"/><rect x="18" y="22" width="1" height="1" fill="#eae51a"/><rect x="19" y="22" width="1" height="1" fill="#f4e61e"/><rect x="20" y="22" width="1" height="1" fill="#f6e620"/><rect x="21" y="22" width="1" height="1" fill="#d8e219"/><rect x="23" y="22" width="1" height="1" fill="#f6e620"/><rect x="24" y="22" width="1" height="1" fill="#fde725"/><rect x="0" y="23" width="1" height="1" fill="#f8e621"/><rect x="1" y="23" width="1" height="1" fill="#ece51b"/><rect x="2" y="23" width="1" height="1" fill="#f8e621"/><rect x="3" y="23" width="1" height="1" fill="#fde725"/><rect x="4" y="23" width="2" height="1" fill="#f1e51d"/><rect x="6" y="23" width="1" height="1" fill="#d0e11c"/><rect x="7" y="23" width="1" height="1" fill="#fde725"/><rect x="8" y="23" width="1" height="1" fill="#efe51c"/><rect x="9" y="23" width="1" height="1" fill="#d0e11c"/><rect x="10" y="23" width="1" height="1" fill="#efe51c"/><rect x="11" y="23" width="1" height="1" fill="#f4e61e"/><rect x="12" y="23" width="1" height="1" fill="#f6e620"/><rect x="13" y="23" width="1" height="1" fill="#fde725"/><rect x="14" y="23" width="1" height="1" fill="#ece51b"/><rect x="15" y="23" width="1" height="1" fill="#f4e61e"/><rect x="16" y="23" width="2" height="1" fill="#f8e621"/><rect x="18" y="23" width="1" height="1" fill="#efe51c"/><rect x="19" y="23" width="1" height="1" fill="#ece51b"/><rect x="20" y="23" width="1" height="1" fill="#f1e51d"/><rect x="21" y="23" width="1" height="1" fill="#f6e620"/><rect x="22" y="23" width="1" height="1" fill="#f1e51d"/><rect x="24" y="23" width="1" height="1" fill="#eae51a"/><rect x="0" y="24" width="2" height="1" fill="#d5e21a"/><rect x="2" y="24" width="2" height="1" fill="#f8e621"/><rect x="4" y="24" width="1" height="1" fill="#fde725"/><rect x="5" y="24" width="1" height="1" fill="#f1e51d"/><rect x="6" y="24" width="1" height="1" fill="#e5e419"/><rect x="7" y="24" width="2" height="1" fill="#fbe723"/><rect x="9" y="24" width="1" height="1" fill="#f8e621"/><rect x="10" y="24" width="1" height="1" fill="#fbe723"/><rect x="11" y="24" width="1" height="1" fill="#f4e61e"/><rect x="12" y="24" width="1" height="1" fill="#f6e620"/><rect x="13" y="24" width="1" height="1" fill="#f8e621"/><rect x="14" y="24" width="1" height="1" fill="#e2e418"/><rect x="15" y="24" width="1" height="1" fill="#f4e61e"/><rect x="16" y="24" width="2" height="1" fill="#eae51a"/><rect x="18" y="24" width="1" height="1" fill="#f6e620"/><rect x="19" y="24" width="1" height="1" fill="#f1e51d"/><rect x="20" y="24" width="1" height="1" fill="#f8e621"/><rect x="21" y="24" width="1" height="1" fill="#dae319"/><rect x="22" y="24" width="1" height="1" fill="#f1e51d"/><rect x="23" y="24" width="1" height="1" fill="#fbe723"/><rect x="26" y="25" width="1" height="1" fill="#fde725"/><rect x="27" y="25" width="1" height="1" fill="#c5e021"/><rect x="28" y="25" width="1" height="1" fill="#c0df25"/><rect x="29" y="25" width="1" height="1" fill="#dfe318"/><rect x="30" y="25" width="1" height="1" fill="#c0df25"/><rect x="31" y="25" width="1" height="1" fill="#ece51b"/><rect x="32" y="25" width="1" height="1" fill="#e5e419"/><rect x="33" y="25" width="1" height="1" fill="#c8e020"/><rect x="34" y="25" width="1" height="1" fill="#c2df23"/><rect x="35" y="25" width="1" height="1" fill="#c8e020"/><rect x="36" y="25" width="1" height="1" fill="#a0da39"/><rect x="37" y="25" width="1" height="1" fill="#dfe318"/><rect x="38" y="25" width="1" height="1" fill="#b0dd2f"/><rect x="39" y="25" width="1" height="1" fill="#d0e11c"/><rect x="40" y="25" width="1" height="1" fill="#cae11f"/><rect x="41" y="25" width="1" height="1" fill="#cde11d"/><rect x="42" y="25" width="1" height="1" fill="#d2e21b"/><rect x="43" y="25" width="1" height="1" fill="#98d83e"/><rect x="44" y="25" width="1" height="1" fill="#b8de29"/><rect x="45" y="25" width="1" height="1" fill="#d2e21b"/><rect x="46" y="25" width="1" height="1" fill="#dae319"/><rect x="47" y="25" width="2" height="1" fill="#d0e11c"/><rect x="49" y="25" width="1" height="1" fill="#cae11f"/><rect x="25" y="26" width="1" height="1" fill="#cae11f"/><rect x="27" y="26" width="1" height="1" fill="#addc30"/><rect x="28" y="26" width="1" height="1" fill="#a5db36"/><rect x="29" y="26" width="1" height="1" fill="#eae51a"/><rect x="30" y="26" width="1" height="1" fill="#addc30"/><rect x="31" y="26" width="1" height="1" fill="#b8de29"/><rect x="32" y="26" width="1" height="1" fill="#eae51a"/><rect x="33" y="26" width="1" height="1" fill="#dfe318"/><rect x="34" y="26" width="1" height="1" fill="#c0df25"/><rect x="35" y="26" width="1" height="1" fill="#c8e020"/><rect x="36" y="26" width="1" height="1" fill="#a2da37"/><rect x="37" y="26" width="2" height="1" fill="#c5e021"/><rect x="39" y="26" width="1" height="1" fill="#b5de2b"/><rect x="40" y="26" width="1" height="1" fill="#cde11d"/><rect x="41" y="26" width="1" height="1" fill="#dde318"/><rect x="42" y="26" width="1" height="1" fill="#d0e11c"/><rect x="43" y="26" width="1" height="1" fill="#dae319"/><rect x="44" y="26" width="1" height="1" fill="#e2e418"/><rect x="45" y="26" width="1" height="1" fill="#aadc32"/><rect x="46" y="26" width="1" height="1" fill="#e7e419"/><rect x="47" y="26" width="1" height="1" fill="#bddf26"/><rect x="48" y="26" width="1" height="1" fill="#b2dd2d"/><rect x="49" y="26" width="1" height="1" fill="#e2e418"/><rect x="25" y="27" width="1" height="1" fill="#c2df23"/><rect x="26" y="27" width="1" height="1" fill="#dae319"/><rect x="28" y="27" width="1" height="1" fill="#d8e219"/><rect x="29" y="27" width="1" height="1" fill="#c8e020"/><rect x="30" y="27" width="1" height="1" fill="#addc30"/><rect x="31" y="27" width="1" height="1" fill="#cae11f"/><rect x="32" y="27" width="1" height="1" fill="#e7e419"/><rect x="33" y="27" width="1" height="1" fill="#d8e219"/><rect x="34" y="27" width="1" height="1" fill="#addc30"/><rect x="35" y="27" width="1" height="1" fill="#c5e021"/><rect x="36" y="27" width="1" height="1" fill="#a2da37"/><rect x="37" y="27" width="1" height="1" fill="#f4e61e"/><rect x="38" y="27" width="1" height="1" fill="#cae11f"/><rect x="39" y="27" width="1" height="1" fill="#c2df23"/><rect x="40" y="27" width="1" height="1" fill="#dfe318"/><rect x="41" y="27" width="2" height="1" fill="#cae11f"/><rect x="43" y="27" width="1" height="1" fill="#c2df23"/><rect x="44" y="27" width="1" height="1" fill="#b8de29"/><rect x="45" y="27" width="1" height="1" fill="#c8e020"/><rect x="46" y="27" width="1" height="1" fill="#e2e418"/><rect x="47" y="27" width="1" height="1" fill="#c0df25"/><rect x="48" y="27" width="1" height="1" fill="#d8e219"/><rect x="49" y="27" width="1" height="1" fill="#e2e418"/><rect x="25" y="28" width="1" height="1" fill="#dfe318"/><rect x="26" y="28" width="1" height="1" fill="#d2e21b"/><rect x="27" y="28" width="1" height="1" fill="#c5e021"/><rect x="29" y="28" width="1" height="1" fill="#ece51b"/><rect x="30" y="28" width="1" height="1" fill="#cae11f"/><rect x="31" y="28" width="1" height="1" fill="#b8de29"/><rect x="32" y="28" width="1" height="1" fill="#d5e21a"/><rect x="33" y="28" width="1" height="1" fill="#e7e419"/><rect x="34" y="28" width="1" height="1" fill="#c8e020"/><rect x="35" y="28" width="1" height="1" fill="#d8e219"/><rect x="36" y="28" width="1" height="1" fill="#d0e11c"/><rect x="37" y="28" width="1" height="1" fill="#d2e21b"/><rect x="38" y="28" width="1" height="1" fill="#bade28"/><rect x="39" y="28" width="1" height="1" fill="#a2da37"/><rect x="40" y="28" width="1" height="1" fill="#c0df25"/><rect x="41" y="28" width="1" height="1" fill="#eae51a"/><rect x="42" y="28" width="1" height="1" fill="#c0df25"/><rect x="43" y="28" width="1" height="1" fill="#a5db36"/><rect x="44" y="28" width="1" height="1" fill="#b8de29"/><rect x="45" y="28" width="1" height="1" fill="#c8e020"/><rect x="46" y="28" width="1" height="1" fill="#e5e419"/><rect x="47" y="28" width="1" height="1" fill="#c5e021"/><rect x="48" y="28" width="1" height="1" fill="#d5e21a"/><rect x="49" y="28" width="1" height="1" fill="#cde11d"/><rect x="25" y="29" width="1" height="1" fill="#d5e21a"/><rect x="26" y="29" width="1" height="1" fill="#e7e419"/><rect x="27" y="29" width="1" height="1" fill="#d0e11c"/><rect x="28" y="29" width="1" height="1" fill="#bddf26"/><rect x="30" y="29" width="1" height="1" fill="#bade28"/><rect x="31" y="29" width="1" height="1" fill="#cde11d"/><rect x="32" y="29" width="1" height="1" fill="#bddf26"/><rect x="33" y="29" width="2" height="1" fill="#d2e21b"/><rect x="35" y="29" width="1" height="1" fill="#e2e418"/><rect x="36" y="29" width="1" height="1" fill="#a5db36"/><rect x="37" y="29" width="1" height="1" fill="#d0e11c"/><rect x="38" y="29" width="1" height="1" fill="#bddf26"/><rect x="39" y="29" width="1" height="1" fill="#a5db36"/><rect x="40" y="29" width="1" height="1" fill="#c8e020"/><rect x="41" y="29" width="1" height="1" fill="#d8e219"/><rect x="42" y="29" width="1" height="1" fill="#c8e020"/><rect x="43" y="29" width="1" height="1" fill="#a8db34"/><rect x="44" y="29" width="1" height="1" fill="#c2df23"/><rect x="45" y="29" width="1" height="1" fill="#a2da37"/><rect x="46" y="29" width="1" height="1" fill="#e5e419"/><rect x="47" y="29" width="1" height="1" fill="#c8e020"/><rect x="48" y="29" width="1" height="1" fill="#cde11d"/><rect x="49" y="29" width="1" height="1" fill="#c2df23"/><rect x="25" y="30" width="1" height="1" fill="#cde11d"/><rect x="26" y="30" width="1" height="1" fill="#e5e419"/><rect x="27" y="30" width="1" height="1" fill="#d5e21a"/><rect x="28" y="30" width="1" height="1" fill="#addc30"/><rect x="29" y="30" width="1" height="1" fill="#e2e418"/><rect x="31" y="30" width="1" height="1" fill="#c0df25"/><rect x="32" y="30" width="1" height="1" fill="#c5e021"/><rect x="33" y="30" width="1" height="1" fill="#d5e21a"/><rect x="34" y="30" width="1" height="1" fill="#c2df23"/><rect x="35" y="30" width="1" height="1" fill="#cae11f"/><rect x="36" y="30" width="1" height="1" fill="#98d83e"/><rect x="37" y="30" width="1" height="1" fill="#d8e219"/><rect x="38" y="30" width="1" height="1" fill="#bade28"/><rect x="39" y="30" width="1" height="1" fill="#b0dd2f"/><rect x="40" y="30" width="1" height="1" fill="#bade28"/><rect x="41" y="30" width="2" height="1" fill="#c8e020"/><rect x="43" y="30" width="1" height="1" fill="#d0e11c"/><rect x="44" y="30" width="1" height="1" fill="#c8e020"/><rect x="45" y="30" width="1" height="1" fill="#dde318"/><rect x="46" y="30" width="1" height="1" fill="#d8e219"/><rect x="47" y="30" width="1" height="1" fill="#bddf26"/><rect x="48" y="30" width="1" height="1" fill="#d5e21a"/><rect x="49" y="30" width="1" height="1" fill="#c5e021"/><rect x="25" y="31" width="1" height="1" fill="#d5e21a"/><rect x="26" y="31" width="1" height="1" fill="#efe51c"/><rect x="27" y="31" width="1" height="1" fill="#bddf26"/><rect x="28" y="31" width="1" height="1" fill="#c2df23"/><rect x="29" y="31" width="1" height="1" fill="#fbe723"/><rect x="30" y="31" width="1" height="1" fill="#c0df25"/><rect x="32" y="31" width="1" height="1" fill="#d5e21a"/><rect x="33" y="31" width="1" height="1" fill="#dae319"/><rect x="34" y="31" width="1" height="1" fill="#c5e021"/><rect x="35" y="31" width="1" height="1" fill="#cde11d"/><rect x="36" y="31" width="2" height="1" fill="#aadc32"/><rect x="38" y="31" width="1" height="1" fill="#d2e21b"/><rect x="39" y="31" width="1" height="1" fill="#a0da39"/><rect x="40" y="31" width="1" height="1" fill="#b8de29"/><rect x="41" y="31" width="1" height="1" fill="#d8e219"/><rect x="42" y="31" width="1" height="1" fill="#c2df23"/><rect x="43" y="31" width="1" height="1" fill="#a5db36"/><rect x="44" y="31" width="1" height="1" fill="#cae11f"/><rect x="45" y="31" width="1" height="1" fill="#b2dd2d"/><rect x="46" y="31" width="1" height="1" fill="#cde11d"/><rect x="47" y="31" width="1" height="1" fill="#b5de2b"/><rect x="48" y="31" width="1" height="1" fill="#bade28"/><rect x="49" y="31" width="1" height="1" fill="#dae319"/><rect x="25" y="32" width="1" height="1" fill="#d0e11c"/><rect x="26" y="32" width="1" height="1" fill="#e5e419"/><rect x="27" y="32" width="1" height="1" fill="#d2e21b"/><rect x="28" y="32" width="1" height="1" fill="#c2df23"/><rect x="29" y="32" width="1" height="1" fill="#c8e020"/><rect x="30" y="32" width="1" height="1" fill="#b8de29"/><rect x="31" y="32" width="1" height="1" fill="#dfe318"/><rect x="33" y="32" width="1" height="1" fill="#d0e11c"/><rect x="34" y="32" width="2" height="1" fill="#cde11d"/><rect x="36" y="32" width="1" height="1" fill="#a8db34"/><rect x="37" y="32" width="1" height="1" fill="#dae319"/><rect x="38" y="32" width="1" height="1" fill="#bade28"/><rect x="39" y="32" width="1" height="1" fill="#b0dd2f"/><rect x="40" y="32" width="1" height="1" fill="#bddf26"/><rect x="41" y="32" width="1" height="1" fill="#c0df25"/><rect x="42" y="32" width="1" height="1" fill="#c8e020"/><rect x="43" y="32" width="1" height="1" fill="#c5e021"/><rect x="44" y="32" width="1" height="1" fill="#d8e219"/><rect x="45" y="32" width="1" height="1" fill="#c8e020"/><rect x="46" y="32" width="1" height="1" fill="#cae11f"/><rect x="47" y="32" width="1" height="1" fill="#dae319"/><rect x="48" y="32" width="1" height="1" fill="#d2e21b"/><rect x="49" y="32" width="1" height="1" fill="#bade28"/><rect x="25" y="33" width="1" height="1" fill="#dae319"/><rect x="26" y="33" width="1" height="1" fill="#e7e419"/><rect x="27" y="33" width="1" height="1" fill="#dfe318"/><rect x="28" y="33" width="1" height="1" fill="#b0dd2f"/><rect x="29" y="33" width="1" height="1" fill="#bddf26"/><rect x="30" y="33" width="1" height="1" fill="#cae11f"/><rect x="31" y="33" width="1" height="1" fill="#a5db36"/><rect x="32" y="33" width="1" height="1" fill="#c5e021"/><rect x="34" y="33" width="1" height="1" fill="#b5de2b"/><rect x="35" y="33" width="1" height="1" fill="#bddf26"/><rect x="36" y="33" width="1" height="1" fill="#98d83e"/><rect x="37" y="33" width="1" height="1" fill="#d0e11c"/><rect x="38" y="33" width="1" height="1" fill="#cae11f"/><rect x="39" y="33" width="1" height="1" fill="#bade28"/><rect x="40" y="33" width="1" height="1" fill="#d2e21b"/><rect x="41" y="33" width="1" height="1" fill="#cae11f"/><rect x="42" y="33" width="1" height="1" fill="#dae319"/><rect x="43" y="33" width="1" height="1" fill="#c2df23"/><rect x="44" y="33" width="1" height="1" fill="#d8e219"/><rect x="45" y="33" width="1" height="1" fill="#addc30"/><rect x="46" y="33" width="1" height="1" fill="#dde318"/><rect x="47" y="33" width="1" height="1" fill="#bddf26"/><rect x="48" y="33" width="1" height="1" fill="#d0e11c"/><rect x="49" y="33" width="1" height="1" fill="#d8e219"/><rect x="25" y="34" width="1" height="1" fill="#bade28"/><rect x="26" y="34" width="1" height="1" fill="#e2e418"/><rect x="27" y="34" width="1" height="1" fill="#d8e219"/><rect x="28" y="34" width="1" height="1" fill="#cde11d"/><rect x="29" y="34" width="1" height="1" fill="#dde318"/><rect x="30" y="34" width="1" height="1" fill="#addc30"/><rect x="31" y="34" width="1" height="1" fill="#b8de29"/><rect x="32" y="34" width="1" height="1" fill="#c0df25"/><rect x="33" y="34" width="1" height="1" fill="#d0e11c"/><rect x="35" y="34" width="1" height="1" fill="#e2e418"/><rect x="36" y="34" width="1" height="1" fill="#aadc32"/><rect x="37" y="34" width="1" height="1" fill="#d2e21b"/><rect x="38" y="34" width="1" height="1" fill="#a8db34"/><rect x="39" y="34" width="1" height="1" fill="#bade28"/><rect x="40" y="34" width="1" height="1" fill="#c5e021"/><rect x="41" y="34" width="1" height="1" fill="#b0dd2f"/><rect x="42" y="34" width="1" height="1" fill="#a5db36"/><rect x="43" y="34" width="1" height="1" fill="#b5de2b"/><rect x="44" y="34" width="1" height="1" fill="#b8de29"/><rect x="45" y="34" width="1" height="1" fill="#e2e418"/><rect x="46" y="34" width="1" height="1" fill="#d8e219"/><rect x="47" y="34" width="1" height="1" fill="#c0df25"/><rect x="48" y="34" width="1" height="1" fill="#c2df23"/><rect x="49" y="34" width="1" height="1" fill="#efe51c"/><rect x="25" y="35" width="1" height="1" fill="#bddf26"/><rect x="26" y="35" width="1" height="1" fill="#ece51b"/><rect x="27" y="35" width="1" height="1" fill="#cae11f"/><rect x="28" y="35" width="2" height="1" fill="#dde318"/><rect x="30" y="35" width="1" height="1" fill="#b5de2b"/><rect x="31" y="35" width="1" height="1" fill="#cde11d"/><rect x="32" y="35" width="1" height="1" fill="#d2e21b"/><rect x="33" y="35" width="1" height="1" fill="#dfe318"/><rect x="34" y="35" width="1" height="1" fill="#c8e020"/><rect x="36" y="35" width="1" height="1" fill="#c5e021"/><rect x="37" y="35" width="1" height="1" fill="#d2e21b"/><rect x="38" y="35" width="1" height="1" fill="#c2df23"/><rect x="39" y="35" width="1" height="1" fill="#a8db34"/><rect x="40" y="35" width="1" height="1" fill="#cde11d"/><rect x="41" y="35" width="1" height="1" fill="#d0e11c"/><rect x="42" y="35" width="1" height="1" fill="#c5e021"/><rect x="43" y="35" width="1" height="1" fill="#cae11f"/><rect x="44" y="35" width="1" height="1" fill="#c0df25"/><rect x="45" y="35" width="1" height="1" fill="#b8de29"/><rect x="46" y="35" width="1" height="1" fill="#eae51a"/><rect x="47" y="35" width="1" height="1" fill="#cae11f"/><rect x="48" y="35" width="1" height="1" fill="#bddf26"/><rect x="49" y="35" width="1" height="1" fill="#e7e419"/><rect x="25" y="36" width="1" height="1" fill="#dae319"/><rect x="26" y="36" width="1" height="1" fill="#b2dd2d"/><rect x="27" y="36" width="1" height="1" fill="#bddf26"/><rect x="28" y="36" width="1" height="1" fill="#d2e21b"/><rect x="29" y="36" width="1" height="1" fill="#e2e418"/><rect x="30" y="36" width="1" height="1" fill="#b2dd2d"/><rect x="31" y="36" width="1" height="1" fill="#dde318"/><rect x="32" y="36" width="1" height="1" fill="#c5e021"/><rect x="33" y="36" width="2" height="1" fill="#cae11f"/><rect x="35" y="36" width="1" height="1" fill="#d0e11c"/><rect x="37" y="36" width="1" height="1" fill="#e2e418"/><rect x="38" y="36" width="1" height="1" fill="#cde11d"/><rect x="39" y="36" width="1" height="1" fill="#b2dd2d"/><rect x="40" y="36" width="1" height="1" fill="#e2e418"/><rect x="41" y="36" width="1" height="1" fill="#c5e021"/><rect x="42" y="36" width="1" height="1" fill="#bddf26"/><rect x="43" y="36" width="1" height="1" fill="#d8e219"/><rect x="44" y="36" width="1" height="1" fill="#cae11f"/><rect x="45" y="36" width="1" height="1" fill="#d8e219"/><rect x="46" y="36" width="1" height="1" fill="#d2e21b"/><rect x="47" y="36" width="1" height="1" fill="#cde11d"/><rect x="48" y="36" width="1" height="1" fill="#c8e020"/><rect x="49" y="36" width="1" height="1" fill="#d8e219"/><rect x="25" y="37" width="1" height="1" fill="#c8e020"/><rect x="26" y="37" width="1" height="1" fill="#dfe318"/><rect x="27" y="37" width="1" height="1" fill="#d0e11c"/><rect x="28" y="37" width="1" height="1" fill="#d8e219"/><rect x="29" y="37" width="1" height="1" fill="#d5e21a"/><rect x="30" y="37" width="1" height="1" fill="#c8e020"/><rect x="31" y="37" width="1" height="1" fill="#d2e21b"/><rect x="32" y="37" width="1" height="1" fill="#c0df25"/><rect x="33" y="37" width="1" height="1" fill="#b5de2b"/><rect x="34" y="37" width="2" height="1" fill="#e5e419"/><rect x="36" y="37" width="1" height="1" fill="#a5db36"/><rect x="38" y="37" width="1" height="1" fill="#c2df23"/><rect x="39" y="37" width="1" height="1" fill="#a2da37"/><rect x="40" y="37" width="1" height="1" fill="#b2dd2d"/><rect x="41" y="37" width="1" height="1" fill="#d5e21a"/><rect x="42" y="37" width="1" height="1" fill="#a8db34"/><rect x="43" y="37" width="1" height="1" fill="#cae11f"/><rect x="44" y="37" width="1" height="1" fill="#bddf26"/><rect x="45" y="37" width="1" height="1" fill="#cde11d"/><rect x="46" y="37" width="1" height="1" fill="#f8e621"/><rect x="47" y="37" width="1" height="1" fill="#efe51c"/><rect x="48" y="37" width="1" height="1" fill="#c5e021"/><rect x="49" y="37" width="1" height="1" fill="#e7e419"/><rect x="25" y="38" width="1" height="1" fill="#bddf26"/><rect x="26" y="38" width="1" height="1" fill="#d5e21a"/><rect x="27" y="38" width="1" height="1" fill="#cae11f"/><rect x="28" y="38" width="1" height="1" fill="#dde318"/><rect x="29" y="38" width="1" height="1" fill="#cae11f"/><rect x="30" y="38" width="2" height="1" fill="#c5e021"/><rect x="32" y="38" width="1" height="1" fill="#bddf26"/><rect x="33" y="38" width="1" height="1" fill="#cde11d"/><rect x="34" y="38" width="1" height="1" fill="#e2e418"/><rect x="35" y="38" width="1" height="1" fill="#cde11d"/><rect x="36" y="38" width="1" height="1" fill="#addc30"/><rect x="37" y="38" width="1" height="1" fill="#e2e418"/><rect x="39" y="38" width="1" height="1" fill="#a8db34"/><rect x="40" y="38" width="1" height="1" fill="#dfe318"/><rect x="41" y="38" width="1" height="1" fill="#eae51a"/><rect x="42" y="38" width="1" height="1" fill="#dde318"/><rect x="43" y="38" width="1" height="1" fill="#d0e11c"/><rect x="44" y="38" width="1" height="1" fill="#c0df25"/><rect x="45" y="38" width="1" height="1" fill="#bddf26"/><rect x="46" y="38" width="1" height="1" fill="#cae11f"/><rect x="47" y="38" width="1" height="1" fill="#c2df23"/><rect x="48" y="38" width="1" height="1" fill="#bddf26"/><rect x="49" y="38" width="1" height="1" fill="#e5e419"/><rect x="25" y="39" width="1" height="1" fill="#e7e419"/><rect x="26" y="39" width="1" height="1" fill="#d5e21a"/><rect x="27" y="39" width="1" height="1" fill="#d2e21b"/><rect x="28" y="39" width="1" height="1" fill="#b0dd2f"/><rect x="29" y="39" width="1" height="1" fill="#cde11d"/><rect x="30" y="39" width="1" height="1" fill="#aadc32"/><rect x="31" y="39" width="1" height="1" fill="#a8db34"/><rect x="32" y="39" width="1" height="1" fill="#d2e21b"/><rect x="33" y="39" width="1" height="1" fill="#d0e11c"/><rect x="34" y="39" width="1" height="1" fill="#c2df23"/><rect x="35" y="39" width="1" height="1" fill="#c8e020"/><rect x="36" y="39" width="1" height="1" fill="#98d83e"/><rect x="37" y="39" width="1" height="1" fill="#d2e21b"/><rect x="38" y="39" width="1" height="1" fill="#b2dd2d"/><rect x="40" y="39" width="1" height="1" fill="#d0e11c"/><rect x="41" y="39" width="1" height="1" fill="#bade28"/><rect x="42" y="39" width="1" height="1" fill="#c5e021"/><rect x="43" y="39" width="1" height="1" fill="#c2df23"/><rect x="44" y="39" width="1" height="1" fill="#dde318"/><rect x="45" y="39" width="1" height="1" fill="#d8e219"/><rect x="46" y="39" width="1" height="1" fill="#dde318"/><rect x="47" y="39" width="1" height="1" fill="#c5e021"/><rect x="48" y="39" width="1" height="1" fill="#aadc32"/><rect x="49" y="39" width="1" height="1" fill="#d5e21a"/><rect x="25" y="40" width="1" height="1" fill="#e5e419"/><rect x="26" y="40" width="1" height="1" fill="#f8e621"/><rect x="27" y="40" width="1" height="1" fill="#98d83e"/><rect x="28" y="40" width="1" height="1" fill="#b8de29"/><rect x="29" y="40" width="1" height="1" fill="#cde11d"/><rect x="30" y="40" width="1" height="1" fill="#aadc32"/><rect x="31" y="40" width="1" height="1" fill="#c8e020"/><rect x="32" y="40" width="1" height="1" fill="#d2e21b"/><rect x="33" y="40" width="1" height="1" fill="#c5e021"/><rect x="34" y="40" width="1" height="1" fill="#c8e020"/><rect x="35" y="40" width="1" height="1" fill="#b5de2b"/><rect x="36" y="40" width="1" height="1" fill="#98d83e"/><rect x="37" y="40" width="1" height="1" fill="#c5e021"/><rect x="38" y="40" width="1" height="1" fill="#cae11f"/><rect x="39" y="40" width="1" height="1" fill="#98d83e"/><rect x="41" y="40" width="1" height="1" fill="#cde11d"/><rect x="42" y="40" width="1" height="1" fill="#d0e11c"/><rect x="43" y="40" width="1" height="1" fill="#b8de29"/><rect x="44" y="40" width="1" height="1" fill="#d5e21a"/><rect x="45" y="40" width="1" height="1" fill="#bade28"/><rect x="46" y="40" width="2" height="1" fill="#dfe318"/><rect x="48" y="40" width="1" height="1" fill="#efe51c"/><rect x="49" y="40" width="1" height="1" fill="#e2e418"/><rect x="25" y="41" width="1" height="1" fill="#e5e419"/><rect x="26" y="41" width="1" height="1" fill="#dfe318"/><rect x="27" y="41" width="1" height="1" fill="#c5e021"/><rect x="28" y="41" width="1" height="1" fill="#dfe318"/><rect x="29" y="41" width="1" height="1" fill="#dde318"/><rect x="30" y="41" width="1" height="1" fill="#d5e21a"/><rect x="31" y="41" width="1" height="1" fill="#d0e11c"/><rect x="32" y="41" width="1" height="1" fill="#f4e61e"/><rect x="33" y="41" width="1" height="1" fill="#f6e620"/><rect x="34" y="41" width="1" height="1" fill="#bade28"/><rect x="35" y="41" width="1" height="1" fill="#efe51c"/><rect x="36" y="41" width="1" height="1" fill="#addc30"/><rect x="37" y="41" width="1" height="1" fill="#dde318"/><rect x="38" y="41" width="1" height="1" fill="#bade28"/><rect x="39" y="41" width="1" height="1" fill="#c0df25"/><rect x="40" y="41" width="1" height="1" fill="#b8de29"/><rect x="42" y="41" width="1" height="1" fill="#b5de2b"/><rect x="43" y="41" width="1" height="1" fill="#addc30"/><rect x="44" y="41" width="1" height="1" fill="#cde11d"/><rect x="45" y="41" width="1" height="1" fill="#d8e219"/><rect x="46" y="41" width="1" height="1" fill="#e5e419"/><rect x="47" y="41" width="1" height="1" fill="#d8e219"/><rect x="48" y="41" width="1" height="1" fill="#c0df25"/><rect x="49" y="41" width="1" height="1" fill="#b8de29"/><rect x="25" y="42" width="1" height="1" fill="#d5e21a"/><rect x="26" y="42" width="1" height="1" fill="#e2e418"/><rect x="27" y="42" width="1" height="1" fill="#cae11f"/><rect x="28" y="42" width="1" height="1" fill="#dde318"/><rect x="29" y="42" width="1" height="1" fill="#d0e11c"/><rect x="30" y="42" width="1" height="1" fill="#bade28"/><rect x="31" y="42" width="1" height="1" fill="#9dd93b"/><rect x="32" y="42" width="1" height="1" fill="#dde318"/><rect x="33" y="42" width="1" height="1" fill="#cde11d"/><rect x="34" y="42" width="1" height="1" fill="#bddf26"/><rect x="35" y="42" width="1" height="1" fill="#d5e21a"/><rect x="36" y="42" width="1" height="1" fill="#98d83e"/><rect x="37" y="42" width="1" height="1" fill="#cae11f"/><rect x="38" y="42" width="1" height="1" fill="#dde318"/><rect x="39" y="42" width="1" height="1" fill="#c0df25"/><rect x="40" y="42" width="1" height="1" fill="#dae319"/><rect x="41" y="42" width="1" height="1" fill="#dde318"/><rect x="43" y="42" width="1" height="1" fill="#c5e021"/><rect x="44" y="42" width="1" height="1" fill="#cae11f"/><rect x="45" y="42" width="1" height="1" fill="#ece51b"/><rect x="46" y="42" width="1" height="1" fill="#d8e219"/><rect x="47" y="42" width="1" height="1" fill="#dde318"/><rect x="48" y="42" width="1" height="1" fill="#c5e021"/><rect x="49" y="42" width="1" height="1" fill="#d0e11c"/><rect x="25" y="43" width="1" height="1" fill="#a5db36"/><rect x="26" y="43" width="1" height="1" fill="#c0df25"/><rect x="27" y="43" width="1" height="1" fill="#dfe318"/><rect x="28" y="43" width="1" height="1" fill="#dde318"/><rect x="29" y="43" width="1" height="1" fill="#cde11d"/><rect x="30" y="43" width="1" height="1" fill="#bddf26"/><rect x="31" y="43" width="1" height="1" fill="#cde11d"/><rect x="32" y="43" width="1" height="1" fill="#c2df23"/><rect x="33" y="43" width="1" height="1" fill="#ece51b"/><rect x="34" y="43" width="1" height="1" fill="#b8de29"/><rect x="35" y="43" width="1" height="1" fill="#c2df23"/><rect x="36" y="43" width="1" height="1" fill="#98d83e"/><rect x="37" y="43" width="1" height="1" fill="#ece51b"/><rect x="38" y="43" width="1" height="1" fill="#bddf26"/><rect x="39" y="43" width="1" height="1" fill="#d0e11c"/><rect x="40" y="43" width="1" height="1" fill="#bade28"/><rect x="41" y="43" width="1" height="1" fill="#d5e21a"/><rect x="42" y="43" width="1" height="1" fill="#c2df23"/><rect x="44" y="43" width="1" height="1" fill="#cae11f"/><rect x="45" y="43" width="1" height="1" fill="#eae51a"/><rect x="46" y="43" width="1" height="1" fill="#fde725"/><rect x="47" y="43" width="1" height="1" fill="#e7e419"/><rect x="48" y="43" width="1" height="1" fill="#c2df23"/><rect x="49" y="43" width="1" height="1" fill="#e5e419"/><rect x="25" y="44" width="1" height="1" fill="#e5e419"/><rect x="26" y="44" width="1" height="1" fill="#e7e419"/><rect x="27" y="44" width="2" height="1" fill="#cde11d"/><rect x="29" y="44" width="1" height="1" fill="#c5e021"/><rect x="30" y="44" width="1" height="1" fill="#c0df25"/><rect x="31" y="44" width="1" height="1" fill="#dfe318"/><rect x="32" y="44" width="1" height="1" fill="#c2df23"/><rect x="33" y="44" width="1" height="1" fill="#d0e11c"/><rect x="34" y="44" width="1" height="1" fill="#d8e219"/><rect x="35" y="44" width="1" height="1" fill="#b8de29"/><rect x="36" y="44" width="1" height="1" fill="#a2da37"/><rect x="37" y="44" width="1" height="1" fill="#b8de29"/><rect x="38" y="44" width="1" height="1" fill="#b0dd2f"/><rect x="39" y="44" width="1" height="1" fill="#9bd93c"/><rect x="40" y="44" width="1" height="1" fill="#bade28"/><rect x="41" y="44" width="1" height="1" fill="#c8e020"/><rect x="42" y="44" width="1" height="1" fill="#bddf26"/><rect x="43" y="44" width="1" height="1" fill="#b8de29"/><rect x="45" y="44" width="1" height="1" fill="#9dd93b"/><rect x="46" y="44" width="1" height="1" fill="#f1e51d"/><rect x="47" y="44" width="1" height="1" fill="#cae11f"/><rect x="48" y="44" width="1" height="1" fill="#b8de29"/><rect x="49" y="44" width="1" height="1" fill="#cae11f"/><rect x="25" y="45" width="1" height="1" fill="#d2e21b"/><rect x="26" y="45" width="1" height="1" fill="#cde11d"/><rect x="27" y="45" width="2" height="1" fill="#bddf26"/><rect x="29" y="45" width="1" height="1" fill="#dde318"/><rect x="30" y="45" width="1" height="1" fill="#b0dd2f"/><rect x="31" y="45" width="1" height="1" fill="#cae11f"/><rect x="32" y="45" width="1" height="1" fill="#d8e219"/><rect x="33" y="45" width="1" height="1" fill="#cae11f"/><rect x="34" y="45" width="1" height="1" fill="#dde318"/><rect x="35" y="45" width="1" height="1" fill="#d0e11c"/><rect x="36" y="45" width="1" height="1" fill="#98d83e"/><rect x="37" y="45" width="1" height="1" fill="#d8e219"/><rect x="38" y="45" width="1" height="1" fill="#bddf26"/><rect x="39" y="45" width="1" height="1" fill="#b2dd2d"/><rect x="40" y="45" width="1" height="1" fill="#d0e11c"/><rect x="41" y="45" width="1" height="1" fill="#f6e620"/><rect x="42" y="45" width="1" height="1" fill="#c5e021"/><rect x="43" y="45" width="2" height="1" fill="#c2df23"/><rect x="46" y="45" width="1" height="1" fill="#efe51c"/><rect x="47" y="45" width="1" height="1" fill="#d0e11c"/><rect x="48" y="45" width="1" height="1" fill="#bade28"/><rect x="49" y="45" width="1" height="1" fill="#c0df25"/><rect x="25" y="46" width="1" height="1" fill="#d8e219"/><rect x="26" y="46" width="1" height="1" fill="#eae51a"/><rect x="27" y="46" width="1" height="1" fill="#a8db34"/><rect x="28" y="46" width="1" height="1" fill="#b8de29"/><rect x="29" y="46" width="1" height="1" fill="#dde318"/><rect x="30" y="46" width="1" height="1" fill="#cde11d"/><rect x="31" y="46" width="1" height="1" fill="#addc30"/><rect x="32" y="46" width="1" height="1" fill="#cae11f"/><rect x="33" y="46" width="1" height="1" fill="#dde318"/><rect x="34" y="46" width="1" height="1" fill="#c0df25"/><rect x="35" y="46" width="1" height="1" fill="#c8e020"/><rect x="36" y="46" width="1" height="1" fill="#9bd93c"/><rect x="37" y="46" width="2" height="1" fill="#bddf26"/><rect x="39" y="46" width="1" height="1" fill="#b8de29"/><rect x="40" y="46" width="1" height="1" fill="#b2dd2d"/><rect x="41" y="46" width="1" height="1" fill="#d2e21b"/><rect x="42" y="46" width="1" height="1" fill="#d5e21a"/><rect x="43" y="46" width="1" height="1" fill="#bddf26"/><rect x="44" y="46" width="1" height="1" fill="#d8e219"/><rect x="45" y="46" width="1" height="1" fill="#bddf26"/><rect x="47" y="46" width="1" height="1" fill="#e7e419"/><rect x="48" y="46" width="1" height="1" fill="#bddf26"/><rect x="49" y="46" width="1" height="1" fill="#f4e61e"/><rect x="25" y="47" width="1" height="1" fill="#c5e021"/><rect x="26" y="47" width="1" height="1" fill="#d2e21b"/><rect x="27" y="47" width="1" height="1" fill="#b5de2b"/><rect x="28" y="47" width="1" height="1" fill="#bddf26"/><rect x="29" y="47" width="1" height="1" fill="#cae11f"/><rect x="30" y="47" width="1" height="1" fill="#b0dd2f"/><rect x="31" y="47" width="1" height="1" fill="#bddf26"/><rect x="32" y="47" width="2" height="1" fill="#dde318"/><rect x="34" y="47" width="1" height="1" fill="#c2df23"/><rect x="35" y="47" width="1" height="1" fill="#e5e419"/><rect x="36" y="47" width="1" height="1" fill="#98d83e"/><rect x="37" y="47" width="1" height="1" fill="#c2df23"/><rect x="38" y="47" width="1" height="1" fill="#a8db34"/><rect x="39" y="47" width="1" height="1" fill="#bddf26"/><rect x="40" y="47" width="1" height="1" fill="#b0dd2f"/><rect x="41" y="47" width="1" height="1" fill="#b8de29"/><rect x="42" y="47" width="2" height="1" fill="#d8e219"/><rect x="44" y="47" width="1" height="1" fill="#dde318"/><rect x="45" y="47" width="1" height="1" fill="#addc30"/><rect x="46" y="47" width="1" height="1" fill="#d8e219"/><rect x="48" y="47" width="1" height="1" fill="#d8e219"/><rect x="49" y="47" width="1" height="1" fill="#d5e21a"/><rect x="25" y="48" width="1" height="1" fill="#b2dd2d"/><rect x="26" y="48" width="1" height="1" fill="#d8e219"/><rect x="27" y="48" width="1" height="1" fill="#a8db34"/><rect x="28" y="48" width="1" height="1" fill="#b0dd2f"/><rect x="29" y="48" width="1" height="1" fill="#f6e620"/><rect x="30" y="48" width="1" height="1" fill="#c8e020"/><rect x="31" y="48" width="1" height="1" fill="#aadc32"/><rect x="32" y="48" width="1" height="1" fill="#b8de29"/><rect x="33" y="48" width="1" height="1" fill="#d5e21a"/><rect x="34" y="48" width="1" height="1" fill="#bddf26"/><rect x="35" y="48" width="1" height="1" fill="#d8e219"/><rect x="36" y="48" width="1" height="1" fill="#9bd93c"/><rect x="37" y="48" width="1" height="1" fill="#d0e11c"/><rect x="38" y="48" width="1" height="1" fill="#c0df25"/><rect x="39" y="48" width="1" height="1" fill="#a0da39"/><rect x="40" y="48" width="1" height="1" fill="#aadc32"/><rect x="41" y="48" width="1" height="1" fill="#bade28"/><rect x="42" y="48" width="2" height="1" fill="#b5de2b"/><rect x="44" y="48" width="2" height="1" fill="#c5e021"/><rect x="46" y="48" width="1" height="1" fill="#dfe318"/><rect x="47" y="48" width="1" height="1" fill="#c0df25"/><rect x="49" y="48" width="1" height="1" fill="#ece51b"/><rect x="25" y="49" width="1" height="1" fill="#efe51c"/><rect x="26" y="49" width="1" height="1" fill="#e5e419"/><rect x="27" y="49" width="1" height="1" fill="#c8e020"/><rect x="28" y="49" width="1" height="1" fill="#dae319"/><rect x="29" y="49" width="1" height="1" fill="#dde318"/><rect x="30" y="49" width="2" height="1" fill="#c0df25"/><rect x="32" y="49" width="1" height="1" fill="#c5e021"/><rect x="33" y="49" width="1" height="1" fill="#bade28"/><rect x="34" y="49" width="1" height="1" fill="#d2e21b"/><rect x="35" y="49" width="1" height="1" fill="#e2e418"/><rect x="36" y="49" width="1" height="1" fill="#98d83e"/><rect x="37" y="49" width="1" height="1" fill="#d2e21b"/><rect x="38" y="49" width="1" height="1" fill="#c0df25"/><rect x="39" y="49" width="1" height="1" fill="#aadc32"/><rect x="40" y="49" width="1" height="1" fill="#bddf26"/><rect x="41" y="49" width="1" height="1" fill="#c8e020"/><rect x="42" y="49" width="1" height="1" fill="#a0da39"/><rect x="43" y="49" width="1" height="1" fill="#b8de29"/><rect x="44" y="49" width="1" height="1" fill="#c2df23"/><rect x="45" y="49" width="1" height="1" fill="#eae51a"/><rect x="46" y="49" width="1" height="1" fill="#e7e419"/><rect x="47" y="49" width="1" height="1" fill="#cae11f"/><rect x="48" y="49" width="1" height="1" fill="#c8e020"/><rect x="0" y="0" width="50" height="50" fill="none" stroke="#100818" stroke-width="0.5102040816326531" stroke-opacity="0.75"/></svg><svg style="position:absolute;left:422.4px;top:198.3px" width="97.6" height="97.5" viewBox="0 0 50 50" preserveAspectRatio="none"><rect x="0" y="0" width="50" height="50" fill="#440154"/><rect x="0" y="0" width="9" height="9" fill="#fde725"/><rect x="9" y="9" width="3" height="3" fill="#fde725"/><rect x="13" y="13" width="8" height="8" fill="#fde725"/><rect x="21" y="21" width="7" height="7" fill="#fde725"/><rect x="28" y="28" width="5" height="5" fill="#fde725"/><rect x="33" y="33" width="6" height="6" fill="#fde725"/><rect x="39" y="39" width="2" height="2" fill="#fde725"/><rect x="41" y="41" width="5" height="5" fill="#fde725"/><rect x="46" y="46" width="4" height="4" fill="#fde725"/><path d="M0 0h1v1h-1z M1 1h1v1h-1z M2 2h1v1h-1z M3 3h1v1h-1z M4 4h1v1h-1z M5 5h1v1h-1z M6 6h1v1h-1z M7 7h1v1h-1z M8 8h1v1h-1z M9 9h1v1h-1z M10 10h1v1h-1z M11 11h1v1h-1z M12 12h1v1h-1z M13 13h1v1h-1z M14 14h1v1h-1z M15 15h1v1h-1z M16 16h1v1h-1z M17 17h1v1h-1z M18 18h1v1h-1z M19 19h1v1h-1z M20 20h1v1h-1z M21 21h1v1h-1z M22 22h1v1h-1z M23 23h1v1h-1z M24 24h1v1h-1z M25 25h1v1h-1z M26 26h1v1h-1z M27 27h1v1h-1z M28 28h1v1h-1z M29 29h1v1h-1z M30 30h1v1h-1z M31 31h1v1h-1z M32 32h1v1h-1z M33 33h1v1h-1z M34 34h1v1h-1z M35 35h1v1h-1z M36 36h1v1h-1z M37 37h1v1h-1z M38 38h1v1h-1z M39 39h1v1h-1z M40 40h1v1h-1z M41 41h1v1h-1z M42 42h1v1h-1z M43 43h1v1h-1z M44 44h1v1h-1z M45 45h1v1h-1z M46 46h1v1h-1z M47 47h1v1h-1z M48 48h1v1h-1z M49 49h1v1h-1z" fill="#440154"/><rect x="0" y="0" width="50" height="50" fill="none" stroke="#100818" stroke-width="0.5102040816326531" stroke-opacity="0.75"/></svg><svg style="position:absolute;left:532.7px;top:198.3px" width="97.1" height="97.5" viewBox="0 0 250 250" preserveAspectRatio="none"><rect x="0" y="0" width="250" height="250" fill="#440154"/><rect x="0" y="0" width="17" height="17" fill="#fde725"/><rect x="17" y="17" width="13" height="13" fill="#fde725"/><rect x="30" y="30" width="9" height="9" fill="#fde725"/><rect x="39" y="39" width="21" height="21" fill="#fde725"/><rect x="60" y="60" width="21" height="21" fill="#fde725"/><rect x="81" y="81" width="17" height="17" fill="#fde725"/><rect x="98" y="98" width="16" height="16" fill="#fde725"/><rect x="114" y="114" width="6" height="6" fill="#fde725"/><rect x="120" y="120" width="21" height="21" fill="#fde725"/><rect x="141" y="141" width="13" height="13" fill="#fde725"/><rect x="154" y="154" width="17" height="17" fill="#fde725"/><rect x="171" y="171" width="10" height="10" fill="#fde725"/><rect x="181" y="181" width="7" height="7" fill="#fde725"/><rect x="188" y="188" width="3" height="3" fill="#fde725"/><rect x="191" y="191" width="2" height="2" fill="#fde725"/><rect x="193" y="193" width="6" height="6" fill="#fde725"/><rect x="199" y="199" width="16" height="16" fill="#fde725"/><rect x="215" y="215" width="13" height="13" fill="#fde725"/><rect x="228" y="228" width="3" height="3" fill="#fde725"/><rect x="231" y="231" width="11" height="11" fill="#fde725"/><rect x="242" y="242" width="8" height="8" fill="#fde725"/><path d="M0 0h1v1h-1z M1 1h1v1h-1z M2 2h1v1h-1z M3 3h1v1h-1z M4 4h1v1h-1z M5 5h1v1h-1z M6 6h1v1h-1z M7 7h1v1h-1z M8 8h1v1h-1z M9 9h1v1h-1z M10 10h1v1h-1z M11 11h1v1h-1z M12 12h1v1h-1z M13 13h1v1h-1z M14 14h1v1h-1z M15 15h1v1h-1z M16 16h1v1h-1z M17 17h1v1h-1z M18 18h1v1h-1z M19 19h1v1h-1z M20 20h1v1h-1z M21 21h1v1h-1z M22 22h1v1h-1z M23 23h1v1h-1z M24 24h1v1h-1z M25 25h1v1h-1z M26 26h1v1h-1z M27 27h1v1h-1z M28 28h1v1h-1z M29 29h1v1h-1z M30 30h1v1h-1z M31 31h1v1h-1z M32 32h1v1h-1z M33 33h1v1h-1z M34 34h1v1h-1z M35 35h1v1h-1z M36 36h1v1h-1z M37 37h1v1h-1z M38 38h1v1h-1z M39 39h1v1h-1z M40 40h1v1h-1z M41 41h1v1h-1z M42 42h1v1h-1z M43 43h1v1h-1z M44 44h1v1h-1z M45 45h1v1h-1z M46 46h1v1h-1z M47 47h1v1h-1z M48 48h1v1h-1z M49 49h1v1h-1z M50 50h1v1h-1z M51 51h1v1h-1z M52 52h1v1h-1z M53 53h1v1h-1z M54 54h1v1h-1z M55 55h1v1h-1z M56 56h1v1h-1z M57 57h1v1h-1z M58 58h1v1h-1z M59 59h1v1h-1z M60 60h1v1h-1z M61 61h1v1h-1z M62 62h1v1h-1z M63 63h1v1h-1z M64 64h1v1h-1z M65 65h1v1h-1z M66 66h1v1h-1z M67 67h1v1h-1z M68 68h1v1h-1z M69 69h1v1h-1z M70 70h1v1h-1z M71 71h1v1h-1z M72 72h1v1h-1z M73 73h1v1h-1z M74 74h1v1h-1z M75 75h1v1h-1z M76 76h1v1h-1z M77 77h1v1h-1z M78 78h1v1h-1z M79 79h1v1h-1z M80 80h1v1h-1z M81 81h1v1h-1z M82 82h1v1h-1z M83 83h1v1h-1z M84 84h1v1h-1z M85 85h1v1h-1z M86 86h1v1h-1z M87 87h1v1h-1z M88 88h1v1h-1z M89 89h1v1h-1z M90 90h1v1h-1z M91 91h1v1h-1z M92 92h1v1h-1z M93 93h1v1h-1z M94 94h1v1h-1z M95 95h1v1h-1z M96 96h1v1h-1z M97 97h1v1h-1z M98 98h1v1h-1z M99 99h1v1h-1z M100 100h1v1h-1z M101 101h1v1h-1z M102 102h1v1h-1z M103 103h1v1h-1z M104 104h1v1h-1z M105 105h1v1h-1z M106 106h1v1h-1z M107 107h1v1h-1z M108 108h1v1h-1z M109 109h1v1h-1z M110 110h1v1h-1z M111 111h1v1h-1z M112 112h1v1h-1z M113 113h1v1h-1z M114 114h1v1h-1z M115 115h1v1h-1z M116 116h1v1h-1z M117 117h1v1h-1z M118 118h1v1h-1z M119 119h1v1h-1z M120 120h1v1h-1z M121 121h1v1h-1z M122 122h1v1h-1z M123 123h1v1h-1z M124 124h1v1h-1z M125 125h1v1h-1z M126 126h1v1h-1z M127 127h1v1h-1z M128 128h1v1h-1z M129 129h1v1h-1z M130 130h1v1h-1z M131 131h1v1h-1z M132 132h1v1h-1z M133 133h1v1h-1z M134 134h1v1h-1z M135 135h1v1h-1z M136 136h1v1h-1z M137 137h1v1h-1z M138 138h1v1h-1z M139 139h1v1h-1z M140 140h1v1h-1z M141 141h1v1h-1z M142 142h1v1h-1z M143 143h1v1h-1z M144 144h1v1h-1z M145 145h1v1h-1z M146 146h1v1h-1z M147 147h1v1h-1z M148 148h1v1h-1z M149 149h1v1h-1z M150 150h1v1h-1z M151 151h1v1h-1z M152 152h1v1h-1z M153 153h1v1h-1z M154 154h1v1h-1z M155 155h1v1h-1z M156 156h1v1h-1z M157 157h1v1h-1z M158 158h1v1h-1z M159 159h1v1h-1z M160 160h1v1h-1z M161 161h1v1h-1z M162 162h1v1h-1z M163 163h1v1h-1z M164 164h1v1h-1z M165 165h1v1h-1z M166 166h1v1h-1z M167 167h1v1h-1z M168 168h1v1h-1z M169 169h1v1h-1z M170 170h1v1h-1z M171 171h1v1h-1z M172 172h1v1h-1z M173 173h1v1h-1z M174 174h1v1h-1z M175 175h1v1h-1z M176 176h1v1h-1z M177 177h1v1h-1z M178 178h1v1h-1z M179 179h1v1h-1z M180 180h1v1h-1z M181 181h1v1h-1z M182 182h1v1h-1z M183 183h1v1h-1z M184 184h1v1h-1z M185 185h1v1h-1z M186 186h1v1h-1z M187 187h1v1h-1z M188 188h1v1h-1z M189 189h1v1h-1z M190 190h1v1h-1z M191 191h1v1h-1z M192 192h1v1h-1z M193 193h1v1h-1z M194 194h1v1h-1z M195 195h1v1h-1z M196 196h1v1h-1z M197 197h1v1h-1z M198 198h1v1h-1z M199 199h1v1h-1z M200 200h1v1h-1z M201 201h1v1h-1z M202 202h1v1h-1z M203 203h1v1h-1z M204 204h1v1h-1z M205 205h1v1h-1z M206 206h1v1h-1z M207 207h1v1h-1z M208 208h1v1h-1z M209 209h1v1h-1z M210 210h1v1h-1z M211 211h1v1h-1z M212 212h1v1h-1z M213 213h1v1h-1z M214 214h1v1h-1z M215 215h1v1h-1z M216 216h1v1h-1z M217 217h1v1h-1z M218 218h1v1h-1z M219 219h1v1h-1z M220 220h1v1h-1z M221 221h1v1h-1z M222 222h1v1h-1z M223 223h1v1h-1z M224 224h1v1h-1z M225 225h1v1h-1z M226 226h1v1h-1z M227 227h1v1h-1z M228 228h1v1h-1z M229 229h1v1h-1z M230 230h1v1h-1z M231 231h1v1h-1z M232 232h1v1h-1z M233 233h1v1h-1z M234 234h1v1h-1z M235 235h1v1h-1z M236 236h1v1h-1z M237 237h1v1h-1z M238 238h1v1h-1z M239 239h1v1h-1z M240 240h1v1h-1z M241 241h1v1h-1z M242 242h1v1h-1z M243 243h1v1h-1z M244 244h1v1h-1z M245 245h1v1h-1z M246 246h1v1h-1z M247 247h1v1h-1z M248 248h1v1h-1z M249 249h1v1h-1z" fill="#440154"/><rect x="0" y="0" width="250" height="250" fill="none" stroke="#100818" stroke-width="2.5510204081632653" stroke-opacity="0.75"/></svg>
</body></html>
